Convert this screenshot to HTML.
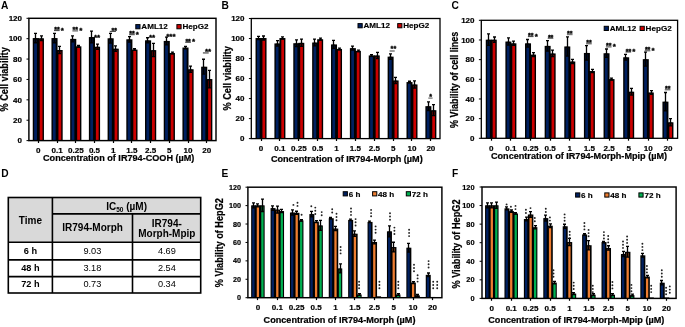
<!DOCTYPE html>
<html><head><meta charset="utf-8"><style>
html,body{margin:0;padding:0;background:#fff;}
svg{display:block;font-family:"Liberation Sans", sans-serif;will-change:transform;}
</style></head><body>
<svg width="685" height="327" viewBox="0 0 685 327" fill="#000">
<rect width="685" height="327" fill="#fff"/>
<rect x="32.75" y="38.07" width="6.10" height="102.53" fill="#000"/>
<rect x="37.85" y="38.28" width="6.10" height="102.32" fill="#000"/>
<rect x="34.15" y="39.47" width="2.80" height="101.13" fill="#002060"/>
<rect x="39.75" y="39.68" width="2.80" height="100.92" fill="#CC0000"/>
<rect x="34.15" y="38.07" width="2.80" height="4.69" fill="#000" fill-opacity="0.55"/>
<path d="M35.50 33.38V42.76M34.00 33.38H37.00M34.00 42.76H37.00" stroke="#000" stroke-width="1.3" fill="none"/>
<rect x="39.75" y="38.28" width="2.80" height="2.34" fill="#000" fill-opacity="0.55"/>
<path d="M41.50 35.93V40.62M40.00 35.93H43.00M40.00 40.62H43.00" stroke="#000" stroke-width="1.3" fill="none"/>
<rect x="51.47" y="38.07" width="6.10" height="102.53" fill="#000"/>
<rect x="56.57" y="50.00" width="6.10" height="90.60" fill="#000"/>
<rect x="52.87" y="39.47" width="2.80" height="101.13" fill="#002060"/>
<rect x="58.47" y="51.40" width="2.80" height="89.20" fill="#CC0000"/>
<rect x="52.87" y="38.07" width="2.80" height="4.69" fill="#000" fill-opacity="0.55"/>
<path d="M54.50 33.38V42.76M53.00 33.38H56.00M53.00 42.76H56.00" stroke="#000" stroke-width="1.3" fill="none"/>
<rect x="58.47" y="50.00" width="2.80" height="3.67" fill="#000" fill-opacity="0.55"/>
<path d="M59.50 46.33V53.67M58.00 46.33H61.00M58.00 53.67H61.00" stroke="#000" stroke-width="1.3" fill="none"/>
<rect x="70.18" y="38.89" width="6.10" height="101.71" fill="#000"/>
<rect x="75.28" y="46.33" width="6.10" height="94.27" fill="#000"/>
<rect x="71.58" y="40.29" width="2.80" height="100.31" fill="#002060"/>
<rect x="77.18" y="47.73" width="2.80" height="92.87" fill="#CC0000"/>
<rect x="71.58" y="38.89" width="2.80" height="2.96" fill="#000" fill-opacity="0.55"/>
<path d="M72.50 35.93V41.84M71.00 35.93H74.00M71.00 41.84H74.00" stroke="#000" stroke-width="1.3" fill="none"/>
<rect x="77.18" y="46.33" width="2.80" height="0.82" fill="#000" fill-opacity="0.55"/>
<path d="M78.50 45.51V47.14M77.00 45.51H80.00M77.00 47.14H80.00" stroke="#000" stroke-width="1.3" fill="none"/>
<rect x="88.88" y="37.05" width="6.10" height="103.55" fill="#000"/>
<rect x="93.98" y="46.73" width="6.10" height="93.87" fill="#000"/>
<rect x="90.28" y="38.45" width="2.80" height="102.15" fill="#002060"/>
<rect x="95.88" y="48.13" width="2.80" height="92.47" fill="#CC0000"/>
<rect x="90.28" y="37.05" width="2.80" height="5.91" fill="#000" fill-opacity="0.55"/>
<path d="M91.50 31.14V42.96M90.00 31.14H93.00M90.00 42.96H93.00" stroke="#000" stroke-width="1.3" fill="none"/>
<rect x="95.88" y="46.73" width="2.80" height="2.55" fill="#000" fill-opacity="0.55"/>
<path d="M97.50 44.19V49.28M96.00 44.19H99.00M96.00 49.28H99.00" stroke="#000" stroke-width="1.3" fill="none"/>
<rect x="107.59" y="38.28" width="6.10" height="102.32" fill="#000"/>
<rect x="112.69" y="48.67" width="6.10" height="91.93" fill="#000"/>
<rect x="109.00" y="39.68" width="2.80" height="100.92" fill="#002060"/>
<rect x="114.59" y="50.07" width="2.80" height="90.53" fill="#CC0000"/>
<rect x="109.00" y="38.28" width="2.80" height="4.89" fill="#000" fill-opacity="0.55"/>
<path d="M110.50 33.38V43.17M109.00 33.38H112.00M109.00 43.17H112.00" stroke="#000" stroke-width="1.3" fill="none"/>
<rect x="114.59" y="48.67" width="2.80" height="2.75" fill="#000" fill-opacity="0.55"/>
<path d="M115.50 45.92V51.42M114.00 45.92H117.00M114.00 51.42H117.00" stroke="#000" stroke-width="1.3" fill="none"/>
<rect x="126.31" y="39.29" width="6.10" height="101.31" fill="#000"/>
<rect x="131.41" y="49.59" width="6.10" height="91.01" fill="#000"/>
<rect x="127.71" y="40.69" width="2.80" height="99.91" fill="#002060"/>
<rect x="133.31" y="50.99" width="2.80" height="89.61" fill="#CC0000"/>
<rect x="127.71" y="39.29" width="2.80" height="2.75" fill="#000" fill-opacity="0.55"/>
<path d="M129.50 36.54V42.05M128.00 36.54H131.00M128.00 42.05H131.00" stroke="#000" stroke-width="1.3" fill="none"/>
<rect x="133.31" y="49.59" width="2.80" height="0.82" fill="#000" fill-opacity="0.55"/>
<path d="M134.50 48.77V50.40M133.00 48.77H136.00M133.00 50.40H136.00" stroke="#000" stroke-width="1.3" fill="none"/>
<rect x="145.02" y="40.31" width="6.10" height="100.29" fill="#000"/>
<rect x="150.12" y="50.10" width="6.10" height="90.50" fill="#000"/>
<rect x="146.42" y="41.71" width="2.80" height="98.89" fill="#002060"/>
<rect x="152.02" y="51.50" width="2.80" height="89.10" fill="#CC0000"/>
<rect x="146.42" y="40.31" width="2.80" height="2.55" fill="#000" fill-opacity="0.55"/>
<path d="M147.50 37.77V42.86M146.00 37.77H149.00M146.00 42.86H149.00" stroke="#000" stroke-width="1.3" fill="none"/>
<rect x="152.02" y="50.10" width="2.80" height="6.62" fill="#000" fill-opacity="0.55"/>
<path d="M153.50 43.47V56.72M152.00 43.47H155.00M152.00 56.72H155.00" stroke="#000" stroke-width="1.3" fill="none"/>
<rect x="163.73" y="40.93" width="6.10" height="99.67" fill="#000"/>
<rect x="168.83" y="52.95" width="6.10" height="87.65" fill="#000"/>
<rect x="165.13" y="42.33" width="2.80" height="98.27" fill="#002060"/>
<rect x="170.73" y="54.35" width="2.80" height="86.25" fill="#CC0000"/>
<rect x="165.13" y="40.93" width="2.80" height="3.87" fill="#000" fill-opacity="0.55"/>
<path d="M166.50 37.05V44.80M165.00 37.05H168.00M165.00 44.80H168.00" stroke="#000" stroke-width="1.3" fill="none"/>
<rect x="170.73" y="52.95" width="2.80" height="0.82" fill="#000" fill-opacity="0.55"/>
<path d="M172.50 52.14V53.77M171.00 52.14H174.00M171.00 53.77H174.00" stroke="#000" stroke-width="1.3" fill="none"/>
<rect x="182.44" y="47.55" width="6.10" height="93.05" fill="#000"/>
<rect x="187.53" y="69.26" width="6.10" height="71.34" fill="#000"/>
<rect x="183.84" y="48.95" width="2.80" height="91.65" fill="#002060"/>
<rect x="189.44" y="70.66" width="2.80" height="69.94" fill="#CC0000"/>
<rect x="183.84" y="47.55" width="2.80" height="1.22" fill="#000" fill-opacity="0.55"/>
<path d="M185.50 46.33V48.77M184.00 46.33H187.00M184.00 48.77H187.00" stroke="#000" stroke-width="1.3" fill="none"/>
<rect x="189.44" y="69.26" width="2.80" height="3.06" fill="#000" fill-opacity="0.55"/>
<path d="M190.50 66.20V72.32M189.00 66.20H192.00M189.00 72.32H192.00" stroke="#000" stroke-width="1.3" fill="none"/>
<rect x="201.15" y="66.71" width="6.10" height="73.89" fill="#000"/>
<rect x="206.25" y="79.04" width="6.10" height="61.56" fill="#000"/>
<rect x="202.55" y="68.11" width="2.80" height="72.49" fill="#002060"/>
<rect x="208.15" y="80.44" width="2.80" height="60.16" fill="#CC0000"/>
<rect x="202.55" y="66.71" width="2.80" height="7.44" fill="#000" fill-opacity="0.55"/>
<path d="M203.50 59.27V74.15M202.00 59.27H205.00M202.00 74.15H205.00" stroke="#000" stroke-width="1.3" fill="none"/>
<rect x="208.15" y="79.04" width="2.80" height="8.76" fill="#000" fill-opacity="0.55"/>
<path d="M209.50 70.28V87.81M208.00 70.28H211.00M208.00 87.81H211.00" stroke="#000" stroke-width="1.3" fill="none"/>
<rect x="28.90" y="18.30" width="187.10" height="122.30" fill="none" stroke="#000" stroke-width="1.45"/>
<line x1="26.50" y1="140.60" x2="28.90" y2="140.60" stroke="#000" stroke-width="1"/>
<text x="22.00" y="143.30" font-size="8.0" text-anchor="end" font-weight="bold" stroke="#000" stroke-width="0.2">0</text>
<line x1="26.50" y1="120.22" x2="28.90" y2="120.22" stroke="#000" stroke-width="1"/>
<text x="22.00" y="122.92" font-size="8.0" text-anchor="end" font-weight="bold" stroke="#000" stroke-width="0.2">20</text>
<line x1="26.50" y1="99.83" x2="28.90" y2="99.83" stroke="#000" stroke-width="1"/>
<text x="22.00" y="102.53" font-size="8.0" text-anchor="end" font-weight="bold" stroke="#000" stroke-width="0.2">40</text>
<line x1="26.50" y1="79.45" x2="28.90" y2="79.45" stroke="#000" stroke-width="1"/>
<text x="22.00" y="82.15" font-size="8.0" text-anchor="end" font-weight="bold" stroke="#000" stroke-width="0.2">60</text>
<line x1="26.50" y1="59.07" x2="28.90" y2="59.07" stroke="#000" stroke-width="1"/>
<text x="22.00" y="61.77" font-size="8.0" text-anchor="end" font-weight="bold" stroke="#000" stroke-width="0.2">80</text>
<line x1="26.50" y1="38.68" x2="28.90" y2="38.68" stroke="#000" stroke-width="1"/>
<text x="22.00" y="41.38" font-size="8.0" text-anchor="end" font-weight="bold" stroke="#000" stroke-width="0.2">100</text>
<line x1="26.50" y1="18.30" x2="28.90" y2="18.30" stroke="#000" stroke-width="1"/>
<text x="22.00" y="21.00" font-size="8.0" text-anchor="end" font-weight="bold" stroke="#000" stroke-width="0.2">120</text>
<line x1="38.50" y1="140.60" x2="38.50" y2="143.00" stroke="#000" stroke-width="1.2"/>
<text transform="translate(38.35,152.80) scale(1.02,1)" font-size="7.9" text-anchor="middle" font-weight="bold" stroke="#000" stroke-width="0.2">0</text>
<line x1="57.50" y1="140.60" x2="57.50" y2="143.00" stroke="#000" stroke-width="1.2"/>
<text transform="translate(57.07,152.80) scale(1.02,1)" font-size="7.9" text-anchor="middle" font-weight="bold" stroke="#000" stroke-width="0.2">0.1</text>
<line x1="75.50" y1="140.60" x2="75.50" y2="143.00" stroke="#000" stroke-width="1.2"/>
<text transform="translate(75.78,152.80) scale(1.02,1)" font-size="7.9" text-anchor="middle" font-weight="bold" stroke="#000" stroke-width="0.2">0.25</text>
<line x1="94.50" y1="140.60" x2="94.50" y2="143.00" stroke="#000" stroke-width="1.2"/>
<text transform="translate(94.48,152.80) scale(1.02,1)" font-size="7.9" text-anchor="middle" font-weight="bold" stroke="#000" stroke-width="0.2">0.5</text>
<line x1="113.50" y1="140.60" x2="113.50" y2="143.00" stroke="#000" stroke-width="1.2"/>
<text transform="translate(113.19,152.80) scale(1.02,1)" font-size="7.9" text-anchor="middle" font-weight="bold" stroke="#000" stroke-width="0.2">1</text>
<line x1="131.50" y1="140.60" x2="131.50" y2="143.00" stroke="#000" stroke-width="1.2"/>
<text transform="translate(131.91,152.80) scale(1.02,1)" font-size="7.9" text-anchor="middle" font-weight="bold" stroke="#000" stroke-width="0.2">1.5</text>
<line x1="150.50" y1="140.60" x2="150.50" y2="143.00" stroke="#000" stroke-width="1.2"/>
<text transform="translate(150.62,152.80) scale(1.02,1)" font-size="7.9" text-anchor="middle" font-weight="bold" stroke="#000" stroke-width="0.2">2.5</text>
<line x1="169.50" y1="140.60" x2="169.50" y2="143.00" stroke="#000" stroke-width="1.2"/>
<text transform="translate(169.33,152.80) scale(1.02,1)" font-size="7.9" text-anchor="middle" font-weight="bold" stroke="#000" stroke-width="0.2">5</text>
<line x1="188.50" y1="140.60" x2="188.50" y2="143.00" stroke="#000" stroke-width="1.2"/>
<text transform="translate(188.03,152.80) scale(1.02,1)" font-size="7.9" text-anchor="middle" font-weight="bold" stroke="#000" stroke-width="0.2">10</text>
<line x1="206.50" y1="140.60" x2="206.50" y2="143.00" stroke="#000" stroke-width="1.2"/>
<text transform="translate(206.75,152.80) scale(1.02,1)" font-size="7.9" text-anchor="middle" font-weight="bold" stroke="#000" stroke-width="0.2">20</text>
<text transform="translate(118.70,160.80) scale(1.085,1)" font-size="8.4" text-anchor="middle" font-weight="bold" stroke="#000" stroke-width="0.2">Concentration of IR794-COOH (µM)</text>
<text transform="translate(8.20,79.40) rotate(-90) scale(1,1.12)" font-size="9.2" text-anchor="middle" font-weight="bold" stroke="#000" stroke-width="0.2">% Cell viability</text>
<rect x="135.80" y="24.60" width="4.2" height="4.2" fill="#002060" stroke="#000" stroke-width="1"/>
<text transform="translate(141.30,29.20) scale(1.08,1)" font-size="7.5" text-anchor="start" font-weight="bold" stroke="#000" stroke-width="0.15">AML12</text>
<rect x="176.90" y="24.60" width="4.2" height="4.2" fill="#CC0000" stroke="#000" stroke-width="1"/>
<text transform="translate(182.40,29.20) scale(1.08,1)" font-size="7.5" text-anchor="start" font-weight="bold" stroke="#000" stroke-width="0.15">HepG2</text>
<text x="54.20" y="32.10" font-size="7.0" font-weight="bold" stroke="#000" stroke-width="0.35">*</text>
<text x="56.92" y="32.10" font-size="7.0" font-weight="bold" stroke="#000" stroke-width="0.35">*</text>
<line x1="54.00" y1="30.60" x2="59.65" y2="30.60" stroke="#222" stroke-width="0.9"/>
<text x="60.75" y="32.60" font-size="8.0" font-weight="bold" stroke="#000" stroke-width="0.35">*</text>
<text x="72.60" y="32.40" font-size="7.0" font-weight="bold" stroke="#000" stroke-width="0.35">*</text>
<text x="75.32" y="32.40" font-size="7.0" font-weight="bold" stroke="#000" stroke-width="0.35">*</text>
<line x1="72.40" y1="30.90" x2="78.05" y2="30.90" stroke="#222" stroke-width="0.9"/>
<text x="79.15" y="32.90" font-size="8.0" font-weight="bold" stroke="#000" stroke-width="0.35">*</text>
<text x="94.00" y="39.50" font-size="8.0" font-weight="bold" stroke="#000" stroke-width="0.35">*</text>
<text x="97.11" y="39.50" font-size="8.0" font-weight="bold" stroke="#000" stroke-width="0.35">*</text>
<text x="111.50" y="32.50" font-size="7.0" font-weight="bold" stroke="#000" stroke-width="0.35">*</text>
<text x="114.22" y="32.50" font-size="7.0" font-weight="bold" stroke="#000" stroke-width="0.35">*</text>
<line x1="109.80" y1="31.40" x2="115.95" y2="31.40" stroke="#222" stroke-width="0.9"/>
<text x="129.30" y="36.20" font-size="7.0" font-weight="bold" stroke="#000" stroke-width="0.35">*</text>
<text x="132.02" y="36.20" font-size="7.0" font-weight="bold" stroke="#000" stroke-width="0.35">*</text>
<line x1="129.10" y1="34.70" x2="134.75" y2="34.70" stroke="#222" stroke-width="0.9"/>
<text x="135.85" y="36.70" font-size="8.0" font-weight="bold" stroke="#000" stroke-width="0.35">*</text>
<text x="148.90" y="40.10" font-size="8.0" font-weight="bold" stroke="#000" stroke-width="0.35">*</text>
<text x="152.01" y="40.10" font-size="8.0" font-weight="bold" stroke="#000" stroke-width="0.35">*</text>
<text x="166.20" y="39.40" font-size="8.0" font-weight="bold" stroke="#000" stroke-width="0.35">*</text>
<text x="169.31" y="39.40" font-size="8.0" font-weight="bold" stroke="#000" stroke-width="0.35">*</text>
<text x="172.42" y="39.40" font-size="8.0" font-weight="bold" stroke="#000" stroke-width="0.35">*</text>
<text x="185.40" y="43.80" font-size="7.0" font-weight="bold" stroke="#000" stroke-width="0.35">*</text>
<text x="188.12" y="43.80" font-size="7.0" font-weight="bold" stroke="#000" stroke-width="0.35">*</text>
<line x1="185.20" y1="42.30" x2="190.85" y2="42.30" stroke="#222" stroke-width="0.9"/>
<text x="191.95" y="44.30" font-size="8.0" font-weight="bold" stroke="#000" stroke-width="0.35">*</text>
<text x="204.90" y="53.60" font-size="8.0" font-weight="bold" stroke="#000" stroke-width="0.35">*</text>
<text x="208.01" y="53.60" font-size="8.0" font-weight="bold" stroke="#000" stroke-width="0.35">*</text>
<line x1="202.90" y1="52.90" x2="208.70" y2="52.90" stroke="#777" stroke-width="1.6"/>
<rect x="255.54" y="38.02" width="6.00" height="100.58" fill="#000"/>
<rect x="260.54" y="38.02" width="6.00" height="100.58" fill="#000"/>
<rect x="256.94" y="39.42" width="2.70" height="99.18" fill="#002060"/>
<rect x="262.44" y="39.42" width="2.70" height="99.18" fill="#CC0000"/>
<rect x="256.94" y="38.02" width="2.70" height="1.60" fill="#000" fill-opacity="0.55"/>
<path d="M258.50 36.41V39.62M257.00 36.41H260.00M257.00 39.62H260.00" stroke="#000" stroke-width="1.3" fill="none"/>
<rect x="262.44" y="38.02" width="2.70" height="2.00" fill="#000" fill-opacity="0.55"/>
<path d="M263.50 36.01V40.02M262.00 36.01H265.00M262.00 40.02H265.00" stroke="#000" stroke-width="1.3" fill="none"/>
<rect x="274.41" y="43.42" width="6.00" height="95.18" fill="#000"/>
<rect x="279.41" y="38.02" width="6.00" height="100.58" fill="#000"/>
<rect x="275.81" y="44.82" width="2.70" height="93.78" fill="#002060"/>
<rect x="281.31" y="39.42" width="2.70" height="99.18" fill="#CC0000"/>
<rect x="275.81" y="43.42" width="2.70" height="2.70" fill="#000" fill-opacity="0.55"/>
<path d="M277.50 40.72V46.12M276.00 40.72H279.00M276.00 46.12H279.00" stroke="#000" stroke-width="1.3" fill="none"/>
<rect x="281.31" y="38.02" width="2.70" height="1.10" fill="#000" fill-opacity="0.55"/>
<path d="M282.50 36.92V39.12M281.00 36.92H284.00M281.00 39.12H284.00" stroke="#000" stroke-width="1.3" fill="none"/>
<rect x="293.28" y="43.22" width="6.00" height="95.38" fill="#000"/>
<rect x="298.28" y="42.82" width="6.00" height="95.78" fill="#000"/>
<rect x="294.68" y="44.62" width="2.70" height="93.98" fill="#002060"/>
<rect x="300.18" y="44.22" width="2.70" height="94.38" fill="#CC0000"/>
<rect x="294.68" y="43.22" width="2.70" height="3.40" fill="#000" fill-opacity="0.55"/>
<path d="M296.50 39.82V46.62M295.00 39.82H298.00M295.00 46.62H298.00" stroke="#000" stroke-width="1.3" fill="none"/>
<rect x="300.18" y="42.82" width="2.70" height="3.60" fill="#000" fill-opacity="0.55"/>
<path d="M301.50 39.22V46.42M300.00 39.22H303.00M300.00 46.42H303.00" stroke="#000" stroke-width="1.3" fill="none"/>
<rect x="312.15" y="42.52" width="6.00" height="96.08" fill="#000"/>
<rect x="317.15" y="39.22" width="6.00" height="99.38" fill="#000"/>
<rect x="313.55" y="43.92" width="2.70" height="94.68" fill="#002060"/>
<rect x="319.05" y="40.62" width="2.70" height="97.98" fill="#CC0000"/>
<rect x="313.55" y="42.52" width="2.70" height="3.30" fill="#000" fill-opacity="0.55"/>
<path d="M314.50 39.22V45.82M313.00 39.22H316.00M313.00 45.82H316.00" stroke="#000" stroke-width="1.3" fill="none"/>
<rect x="319.05" y="39.22" width="2.70" height="1.00" fill="#000" fill-opacity="0.55"/>
<path d="M320.50 38.22V40.22M319.00 38.22H322.00M319.00 40.22H322.00" stroke="#000" stroke-width="1.3" fill="none"/>
<rect x="331.02" y="44.42" width="6.00" height="94.18" fill="#000"/>
<rect x="336.02" y="48.93" width="6.00" height="89.67" fill="#000"/>
<rect x="332.42" y="45.82" width="2.70" height="92.78" fill="#002060"/>
<rect x="337.92" y="50.33" width="2.70" height="88.27" fill="#CC0000"/>
<rect x="332.42" y="44.42" width="2.70" height="4.00" fill="#000" fill-opacity="0.55"/>
<path d="M333.50 40.42V48.42M332.00 40.42H335.00M332.00 48.42H335.00" stroke="#000" stroke-width="1.3" fill="none"/>
<rect x="337.92" y="48.93" width="2.70" height="0.80" fill="#000" fill-opacity="0.55"/>
<path d="M339.50 48.12V49.73M338.00 48.12H341.00M338.00 49.73H341.00" stroke="#000" stroke-width="1.3" fill="none"/>
<rect x="349.88" y="48.12" width="6.00" height="90.48" fill="#000"/>
<rect x="354.88" y="50.83" width="6.00" height="87.77" fill="#000"/>
<rect x="351.28" y="49.52" width="2.70" height="89.08" fill="#002060"/>
<rect x="356.78" y="52.23" width="2.70" height="86.37" fill="#CC0000"/>
<rect x="351.28" y="48.12" width="2.70" height="2.00" fill="#000" fill-opacity="0.55"/>
<path d="M352.50 46.12V50.13M351.00 46.12H354.00M351.00 50.13H354.00" stroke="#000" stroke-width="1.3" fill="none"/>
<rect x="356.78" y="50.83" width="2.70" height="0.80" fill="#000" fill-opacity="0.55"/>
<path d="M358.50 50.03V51.63M357.00 50.03H360.00M357.00 51.63H360.00" stroke="#000" stroke-width="1.3" fill="none"/>
<rect x="368.75" y="55.43" width="6.00" height="83.17" fill="#000"/>
<rect x="373.75" y="55.43" width="6.00" height="83.17" fill="#000"/>
<rect x="370.15" y="56.83" width="2.70" height="81.77" fill="#002060"/>
<rect x="375.65" y="56.83" width="2.70" height="81.77" fill="#CC0000"/>
<rect x="370.15" y="55.43" width="2.70" height="0.90" fill="#000" fill-opacity="0.55"/>
<path d="M371.50 54.53V56.33M370.00 54.53H373.00M370.00 56.33H373.00" stroke="#000" stroke-width="1.3" fill="none"/>
<rect x="375.65" y="55.43" width="2.70" height="3.10" fill="#000" fill-opacity="0.55"/>
<path d="M377.50 52.33V58.53M376.00 52.33H379.00M376.00 58.53H379.00" stroke="#000" stroke-width="1.3" fill="none"/>
<rect x="387.62" y="56.63" width="6.00" height="81.97" fill="#000"/>
<rect x="392.62" y="80.45" width="6.00" height="58.15" fill="#000"/>
<rect x="389.02" y="58.03" width="2.70" height="80.57" fill="#002060"/>
<rect x="394.52" y="81.85" width="2.70" height="56.75" fill="#CC0000"/>
<rect x="389.02" y="56.63" width="2.70" height="2.80" fill="#000" fill-opacity="0.55"/>
<path d="M390.50 53.83V59.43M389.00 53.83H392.00M389.00 59.43H392.00" stroke="#000" stroke-width="1.3" fill="none"/>
<rect x="394.52" y="80.45" width="2.70" height="3.10" fill="#000" fill-opacity="0.55"/>
<path d="M395.50 77.35V83.55M394.00 77.35H397.00M394.00 83.55H397.00" stroke="#000" stroke-width="1.3" fill="none"/>
<rect x="406.50" y="82.05" width="6.00" height="56.55" fill="#000"/>
<rect x="411.50" y="84.45" width="6.00" height="54.15" fill="#000"/>
<rect x="407.89" y="83.45" width="2.70" height="55.15" fill="#002060"/>
<rect x="413.39" y="85.85" width="2.70" height="52.75" fill="#CC0000"/>
<rect x="407.89" y="82.05" width="2.70" height="0.80" fill="#000" fill-opacity="0.55"/>
<path d="M409.50 81.25V82.85M408.00 81.25H411.00M408.00 82.85H411.00" stroke="#000" stroke-width="1.3" fill="none"/>
<rect x="413.39" y="84.45" width="2.70" height="3.60" fill="#000" fill-opacity="0.55"/>
<path d="M414.50 80.85V88.06M413.00 80.85H416.00M413.00 88.06H416.00" stroke="#000" stroke-width="1.3" fill="none"/>
<rect x="425.37" y="106.17" width="6.00" height="32.43" fill="#000"/>
<rect x="430.37" y="110.18" width="6.00" height="28.42" fill="#000"/>
<rect x="426.76" y="107.57" width="2.70" height="31.03" fill="#002060"/>
<rect x="432.26" y="111.58" width="2.70" height="27.02" fill="#CC0000"/>
<rect x="426.76" y="106.17" width="2.70" height="4.30" fill="#000" fill-opacity="0.55"/>
<path d="M428.50 101.87V110.48M427.00 101.87H430.00M427.00 110.48H430.00" stroke="#000" stroke-width="1.3" fill="none"/>
<rect x="432.26" y="110.18" width="2.70" height="5.50" fill="#000" fill-opacity="0.55"/>
<path d="M433.50 104.67V115.68M432.00 104.67H435.00M432.00 115.68H435.00" stroke="#000" stroke-width="1.3" fill="none"/>
<rect x="251.30" y="18.50" width="188.70" height="120.10" fill="none" stroke="#000" stroke-width="1.3"/>
<line x1="248.90" y1="138.60" x2="251.30" y2="138.60" stroke="#000" stroke-width="1"/>
<text x="244.50" y="141.30" font-size="8.0" text-anchor="end" font-weight="bold" stroke="#000" stroke-width="0.2">0</text>
<line x1="248.90" y1="118.58" x2="251.30" y2="118.58" stroke="#000" stroke-width="1"/>
<text x="244.50" y="121.28" font-size="8.0" text-anchor="end" font-weight="bold" stroke="#000" stroke-width="0.2">20</text>
<line x1="248.90" y1="98.57" x2="251.30" y2="98.57" stroke="#000" stroke-width="1"/>
<text x="244.50" y="101.27" font-size="8.0" text-anchor="end" font-weight="bold" stroke="#000" stroke-width="0.2">40</text>
<line x1="248.90" y1="78.55" x2="251.30" y2="78.55" stroke="#000" stroke-width="1"/>
<text x="244.50" y="81.25" font-size="8.0" text-anchor="end" font-weight="bold" stroke="#000" stroke-width="0.2">60</text>
<line x1="248.90" y1="58.53" x2="251.30" y2="58.53" stroke="#000" stroke-width="1"/>
<text x="244.50" y="61.23" font-size="8.0" text-anchor="end" font-weight="bold" stroke="#000" stroke-width="0.2">80</text>
<line x1="248.90" y1="38.52" x2="251.30" y2="38.52" stroke="#000" stroke-width="1"/>
<text x="244.50" y="41.22" font-size="8.0" text-anchor="end" font-weight="bold" stroke="#000" stroke-width="0.2">100</text>
<line x1="248.90" y1="18.50" x2="251.30" y2="18.50" stroke="#000" stroke-width="1"/>
<text x="244.50" y="21.20" font-size="8.0" text-anchor="end" font-weight="bold" stroke="#000" stroke-width="0.2">120</text>
<line x1="261.50" y1="138.60" x2="261.50" y2="141.00" stroke="#000" stroke-width="1.2"/>
<text transform="translate(261.04,150.90) scale(1.02,1)" font-size="7.9" text-anchor="middle" font-weight="bold" stroke="#000" stroke-width="0.2">0</text>
<line x1="279.50" y1="138.60" x2="279.50" y2="141.00" stroke="#000" stroke-width="1.2"/>
<text transform="translate(279.91,150.90) scale(1.02,1)" font-size="7.9" text-anchor="middle" font-weight="bold" stroke="#000" stroke-width="0.2">0.1</text>
<line x1="298.50" y1="138.60" x2="298.50" y2="141.00" stroke="#000" stroke-width="1.2"/>
<text transform="translate(298.78,150.90) scale(1.02,1)" font-size="7.9" text-anchor="middle" font-weight="bold" stroke="#000" stroke-width="0.2">0.25</text>
<line x1="317.50" y1="138.60" x2="317.50" y2="141.00" stroke="#000" stroke-width="1.2"/>
<text transform="translate(317.65,150.90) scale(1.02,1)" font-size="7.9" text-anchor="middle" font-weight="bold" stroke="#000" stroke-width="0.2">0.5</text>
<line x1="336.50" y1="138.60" x2="336.50" y2="141.00" stroke="#000" stroke-width="1.2"/>
<text transform="translate(336.52,150.90) scale(1.02,1)" font-size="7.9" text-anchor="middle" font-weight="bold" stroke="#000" stroke-width="0.2">1</text>
<line x1="355.50" y1="138.60" x2="355.50" y2="141.00" stroke="#000" stroke-width="1.2"/>
<text transform="translate(355.38,150.90) scale(1.02,1)" font-size="7.9" text-anchor="middle" font-weight="bold" stroke="#000" stroke-width="0.2">1.5</text>
<line x1="374.50" y1="138.60" x2="374.50" y2="141.00" stroke="#000" stroke-width="1.2"/>
<text transform="translate(374.25,150.90) scale(1.02,1)" font-size="7.9" text-anchor="middle" font-weight="bold" stroke="#000" stroke-width="0.2">2.5</text>
<line x1="393.50" y1="138.60" x2="393.50" y2="141.00" stroke="#000" stroke-width="1.2"/>
<text transform="translate(393.12,150.90) scale(1.02,1)" font-size="7.9" text-anchor="middle" font-weight="bold" stroke="#000" stroke-width="0.2">5</text>
<line x1="411.50" y1="138.60" x2="411.50" y2="141.00" stroke="#000" stroke-width="1.2"/>
<text transform="translate(412.00,150.90) scale(1.02,1)" font-size="7.9" text-anchor="middle" font-weight="bold" stroke="#000" stroke-width="0.2">10</text>
<line x1="430.50" y1="138.60" x2="430.50" y2="141.00" stroke="#000" stroke-width="1.2"/>
<text transform="translate(430.87,150.90) scale(1.02,1)" font-size="7.9" text-anchor="middle" font-weight="bold" stroke="#000" stroke-width="0.2">20</text>
<text transform="translate(346.80,161.50) scale(1.085,1)" font-size="8.4" text-anchor="middle" font-weight="bold" stroke="#000" stroke-width="0.2">Concentration of IR794-Morph (µM)</text>
<text transform="translate(231.30,78.40) rotate(-90) scale(1,1.12)" font-size="9.2" text-anchor="middle" font-weight="bold" stroke="#000" stroke-width="0.2">% Cell viability</text>
<rect x="358.00" y="23.60" width="4.2" height="4.2" fill="#002060" stroke="#000" stroke-width="1"/>
<text transform="translate(363.50,28.20) scale(1.08,1)" font-size="7.5" text-anchor="start" font-weight="bold" stroke="#000" stroke-width="0.15">AML12</text>
<rect x="397.70" y="23.60" width="4.2" height="4.2" fill="#CC0000" stroke="#000" stroke-width="1"/>
<text transform="translate(403.20,28.20) scale(1.08,1)" font-size="7.5" text-anchor="start" font-weight="bold" stroke="#000" stroke-width="0.15">HepG2</text>
<text x="390.60" y="51.20" font-size="7.2" font-weight="bold" stroke="#000" stroke-width="0.35">*</text>
<text x="393.40" y="51.20" font-size="7.2" font-weight="bold" stroke="#000" stroke-width="0.35">*</text>
<line x1="389.60" y1="51.00" x2="394.70" y2="51.00" stroke="#666" stroke-width="1.3"/>
<text x="429.30" y="99.30" font-size="7.2" font-weight="bold" stroke="#000" stroke-width="0.35">*</text>
<line x1="428.30" y1="98.10" x2="432.60" y2="98.10" stroke="#777" stroke-width="1.3"/>
<rect x="485.76" y="39.67" width="6.00" height="98.63" fill="#000"/>
<rect x="490.76" y="39.67" width="6.00" height="98.63" fill="#000"/>
<rect x="487.16" y="41.07" width="2.70" height="97.23" fill="#002060"/>
<rect x="492.66" y="41.07" width="2.70" height="97.23" fill="#CC0000"/>
<rect x="487.16" y="39.67" width="2.70" height="5.70" fill="#000" fill-opacity="0.55"/>
<path d="M488.50 33.97V45.38M487.00 33.97H490.00M487.00 45.38H490.00" stroke="#000" stroke-width="1.3" fill="none"/>
<rect x="492.66" y="39.67" width="2.70" height="2.66" fill="#000" fill-opacity="0.55"/>
<path d="M494.50 37.02V42.33M493.00 37.02H496.00M493.00 42.33H496.00" stroke="#000" stroke-width="1.3" fill="none"/>
<rect x="505.39" y="41.54" width="6.00" height="96.76" fill="#000"/>
<rect x="510.39" y="43.31" width="6.00" height="94.99" fill="#000"/>
<rect x="506.79" y="42.94" width="2.70" height="95.36" fill="#002060"/>
<rect x="512.29" y="44.71" width="2.70" height="93.59" fill="#CC0000"/>
<rect x="506.79" y="41.54" width="2.70" height="3.64" fill="#000" fill-opacity="0.55"/>
<path d="M508.50 37.90V45.18M507.00 37.90H510.00M507.00 45.18H510.00" stroke="#000" stroke-width="1.3" fill="none"/>
<rect x="512.29" y="43.31" width="2.70" height="2.16" fill="#000" fill-opacity="0.55"/>
<path d="M513.50 41.15V45.47M512.00 41.15H515.00M512.00 45.47H515.00" stroke="#000" stroke-width="1.3" fill="none"/>
<rect x="525.02" y="43.31" width="6.00" height="94.99" fill="#000"/>
<rect x="530.02" y="54.62" width="6.00" height="83.68" fill="#000"/>
<rect x="526.42" y="44.71" width="2.70" height="93.59" fill="#002060"/>
<rect x="531.92" y="56.02" width="2.70" height="82.28" fill="#CC0000"/>
<rect x="526.42" y="43.31" width="2.70" height="3.84" fill="#000" fill-opacity="0.55"/>
<path d="M527.50 39.48V47.15M526.00 39.48H529.00M526.00 47.15H529.00" stroke="#000" stroke-width="1.3" fill="none"/>
<rect x="531.92" y="54.62" width="2.70" height="2.06" fill="#000" fill-opacity="0.55"/>
<path d="M533.50 52.55V56.68M532.00 52.55H535.00M532.00 56.68H535.00" stroke="#000" stroke-width="1.3" fill="none"/>
<rect x="544.65" y="45.87" width="6.00" height="92.43" fill="#000"/>
<rect x="549.65" y="53.44" width="6.00" height="84.86" fill="#000"/>
<rect x="546.05" y="47.27" width="2.70" height="91.03" fill="#002060"/>
<rect x="551.55" y="54.84" width="2.70" height="83.46" fill="#CC0000"/>
<rect x="546.05" y="45.87" width="2.70" height="5.21" fill="#000" fill-opacity="0.55"/>
<path d="M547.50 40.65V51.08M546.00 40.65H549.00M546.00 51.08H549.00" stroke="#000" stroke-width="1.3" fill="none"/>
<rect x="551.55" y="53.44" width="2.70" height="3.24" fill="#000" fill-opacity="0.55"/>
<path d="M552.50 50.19V56.68M551.00 50.19H554.00M551.00 56.68H554.00" stroke="#000" stroke-width="1.3" fill="none"/>
<rect x="564.28" y="46.46" width="6.00" height="91.84" fill="#000"/>
<rect x="569.28" y="61.50" width="6.00" height="76.80" fill="#000"/>
<rect x="565.68" y="47.86" width="2.70" height="90.44" fill="#002060"/>
<rect x="571.18" y="62.90" width="2.70" height="75.40" fill="#CC0000"/>
<rect x="565.68" y="46.46" width="2.70" height="9.64" fill="#000" fill-opacity="0.55"/>
<path d="M567.50 36.82V56.09M566.00 36.82H569.00M566.00 56.09H569.00" stroke="#000" stroke-width="1.3" fill="none"/>
<rect x="571.18" y="61.50" width="2.70" height="2.06" fill="#000" fill-opacity="0.55"/>
<path d="M572.50 59.44V63.57M571.00 59.44H574.00M571.00 63.57H574.00" stroke="#000" stroke-width="1.3" fill="none"/>
<rect x="583.91" y="52.95" width="6.00" height="85.35" fill="#000"/>
<rect x="588.91" y="71.04" width="6.00" height="67.26" fill="#000"/>
<rect x="585.31" y="54.35" width="2.70" height="83.95" fill="#002060"/>
<rect x="590.81" y="72.44" width="2.70" height="65.86" fill="#CC0000"/>
<rect x="585.31" y="52.95" width="2.70" height="7.28" fill="#000" fill-opacity="0.55"/>
<path d="M586.50 45.67V60.22M585.00 45.67H588.00M585.00 60.22H588.00" stroke="#000" stroke-width="1.3" fill="none"/>
<rect x="590.81" y="71.04" width="2.70" height="1.67" fill="#000" fill-opacity="0.55"/>
<path d="M592.50 69.37V72.71M591.00 69.37H594.00M591.00 72.71H594.00" stroke="#000" stroke-width="1.3" fill="none"/>
<rect x="603.54" y="53.24" width="6.00" height="85.06" fill="#000"/>
<rect x="608.54" y="79.10" width="6.00" height="59.20" fill="#000"/>
<rect x="604.94" y="54.64" width="2.70" height="83.66" fill="#002060"/>
<rect x="610.44" y="80.50" width="2.70" height="57.80" fill="#CC0000"/>
<rect x="604.94" y="53.24" width="2.70" height="4.23" fill="#000" fill-opacity="0.55"/>
<path d="M606.50 49.01V57.47M605.00 49.01H608.00M605.00 57.47H608.00" stroke="#000" stroke-width="1.3" fill="none"/>
<rect x="610.44" y="79.10" width="2.70" height="0.98" fill="#000" fill-opacity="0.55"/>
<path d="M611.50 78.12V80.09M610.00 78.12H613.00M610.00 80.09H613.00" stroke="#000" stroke-width="1.3" fill="none"/>
<rect x="623.18" y="57.27" width="6.00" height="81.03" fill="#000"/>
<rect x="628.18" y="91.69" width="6.00" height="46.61" fill="#000"/>
<rect x="624.58" y="58.67" width="2.70" height="79.63" fill="#002060"/>
<rect x="630.08" y="93.09" width="2.70" height="45.21" fill="#CC0000"/>
<rect x="624.58" y="57.27" width="2.70" height="2.85" fill="#000" fill-opacity="0.55"/>
<path d="M625.50 54.42V60.12M624.00 54.42H627.00M624.00 60.12H627.00" stroke="#000" stroke-width="1.3" fill="none"/>
<rect x="630.08" y="91.69" width="2.70" height="3.34" fill="#000" fill-opacity="0.55"/>
<path d="M631.50 88.35V95.03M630.00 88.35H633.00M630.00 95.03H633.00" stroke="#000" stroke-width="1.3" fill="none"/>
<rect x="642.80" y="59.14" width="6.00" height="79.16" fill="#000"/>
<rect x="647.80" y="92.48" width="6.00" height="45.82" fill="#000"/>
<rect x="644.20" y="60.54" width="2.70" height="77.76" fill="#002060"/>
<rect x="649.70" y="93.88" width="2.70" height="44.42" fill="#CC0000"/>
<rect x="644.20" y="59.14" width="2.70" height="7.08" fill="#000" fill-opacity="0.55"/>
<path d="M645.50 52.06V66.22M644.00 52.06H647.00M644.00 66.22H647.00" stroke="#000" stroke-width="1.3" fill="none"/>
<rect x="649.70" y="92.48" width="2.70" height="1.77" fill="#000" fill-opacity="0.55"/>
<path d="M651.50 90.71V94.25M650.00 90.71H653.00M650.00 94.25H653.00" stroke="#000" stroke-width="1.3" fill="none"/>
<rect x="662.44" y="101.62" width="6.00" height="36.68" fill="#000"/>
<rect x="667.44" y="122.27" width="6.00" height="16.03" fill="#000"/>
<rect x="663.84" y="103.02" width="2.70" height="35.28" fill="#002060"/>
<rect x="669.34" y="123.67" width="2.70" height="14.63" fill="#CC0000"/>
<rect x="663.84" y="101.62" width="2.70" height="9.15" fill="#000" fill-opacity="0.55"/>
<path d="M665.50 92.48V110.77M664.00 92.48H667.00M664.00 110.77H667.00" stroke="#000" stroke-width="1.3" fill="none"/>
<rect x="669.34" y="122.27" width="2.70" height="3.64" fill="#000" fill-opacity="0.55"/>
<path d="M670.50 118.63V125.91M669.00 118.63H672.00M669.00 125.91H672.00" stroke="#000" stroke-width="1.3" fill="none"/>
<rect x="481.30" y="20.30" width="196.30" height="118.00" fill="none" stroke="#000" stroke-width="1.3"/>
<line x1="478.90" y1="138.30" x2="481.30" y2="138.30" stroke="#000" stroke-width="1"/>
<text x="474.50" y="141.00" font-size="8.0" text-anchor="end" font-weight="bold" stroke="#000" stroke-width="0.2">0</text>
<line x1="478.90" y1="118.63" x2="481.30" y2="118.63" stroke="#000" stroke-width="1"/>
<text x="474.50" y="121.33" font-size="8.0" text-anchor="end" font-weight="bold" stroke="#000" stroke-width="0.2">20</text>
<line x1="478.90" y1="98.97" x2="481.30" y2="98.97" stroke="#000" stroke-width="1"/>
<text x="474.50" y="101.67" font-size="8.0" text-anchor="end" font-weight="bold" stroke="#000" stroke-width="0.2">40</text>
<line x1="478.90" y1="79.30" x2="481.30" y2="79.30" stroke="#000" stroke-width="1"/>
<text x="474.50" y="82.00" font-size="8.0" text-anchor="end" font-weight="bold" stroke="#000" stroke-width="0.2">60</text>
<line x1="478.90" y1="59.63" x2="481.30" y2="59.63" stroke="#000" stroke-width="1"/>
<text x="474.50" y="62.33" font-size="8.0" text-anchor="end" font-weight="bold" stroke="#000" stroke-width="0.2">80</text>
<line x1="478.90" y1="39.97" x2="481.30" y2="39.97" stroke="#000" stroke-width="1"/>
<text x="474.50" y="42.67" font-size="8.0" text-anchor="end" font-weight="bold" stroke="#000" stroke-width="0.2">100</text>
<line x1="478.90" y1="20.30" x2="481.30" y2="20.30" stroke="#000" stroke-width="1"/>
<text x="474.50" y="23.00" font-size="8.0" text-anchor="end" font-weight="bold" stroke="#000" stroke-width="0.2">120</text>
<line x1="491.50" y1="138.30" x2="491.50" y2="140.70" stroke="#000" stroke-width="1.2"/>
<text transform="translate(491.26,150.70) scale(1.02,1)" font-size="7.9" text-anchor="middle" font-weight="bold" stroke="#000" stroke-width="0.2">0</text>
<line x1="510.50" y1="138.30" x2="510.50" y2="140.70" stroke="#000" stroke-width="1.2"/>
<text transform="translate(510.89,150.70) scale(1.02,1)" font-size="7.9" text-anchor="middle" font-weight="bold" stroke="#000" stroke-width="0.2">0.1</text>
<line x1="530.50" y1="138.30" x2="530.50" y2="140.70" stroke="#000" stroke-width="1.2"/>
<text transform="translate(530.52,150.70) scale(1.02,1)" font-size="7.9" text-anchor="middle" font-weight="bold" stroke="#000" stroke-width="0.2">0.25</text>
<line x1="550.50" y1="138.30" x2="550.50" y2="140.70" stroke="#000" stroke-width="1.2"/>
<text transform="translate(550.15,150.70) scale(1.02,1)" font-size="7.9" text-anchor="middle" font-weight="bold" stroke="#000" stroke-width="0.2">0.5</text>
<line x1="569.50" y1="138.30" x2="569.50" y2="140.70" stroke="#000" stroke-width="1.2"/>
<text transform="translate(569.78,150.70) scale(1.02,1)" font-size="7.9" text-anchor="middle" font-weight="bold" stroke="#000" stroke-width="0.2">1</text>
<line x1="589.50" y1="138.30" x2="589.50" y2="140.70" stroke="#000" stroke-width="1.2"/>
<text transform="translate(589.41,150.70) scale(1.02,1)" font-size="7.9" text-anchor="middle" font-weight="bold" stroke="#000" stroke-width="0.2">1.5</text>
<line x1="609.50" y1="138.30" x2="609.50" y2="140.70" stroke="#000" stroke-width="1.2"/>
<text transform="translate(609.04,150.70) scale(1.02,1)" font-size="7.9" text-anchor="middle" font-weight="bold" stroke="#000" stroke-width="0.2">2.5</text>
<line x1="628.50" y1="138.30" x2="628.50" y2="140.70" stroke="#000" stroke-width="1.2"/>
<text transform="translate(628.68,150.70) scale(1.02,1)" font-size="7.9" text-anchor="middle" font-weight="bold" stroke="#000" stroke-width="0.2">5</text>
<line x1="648.50" y1="138.30" x2="648.50" y2="140.70" stroke="#000" stroke-width="1.2"/>
<text transform="translate(648.30,150.70) scale(1.02,1)" font-size="7.9" text-anchor="middle" font-weight="bold" stroke="#000" stroke-width="0.2">10</text>
<line x1="667.50" y1="138.30" x2="667.50" y2="140.70" stroke="#000" stroke-width="1.2"/>
<text transform="translate(667.94,150.70) scale(1.02,1)" font-size="7.9" text-anchor="middle" font-weight="bold" stroke="#000" stroke-width="0.2">20</text>
<text transform="translate(579.00,159.10) scale(1.085,1)" font-size="8.4" text-anchor="middle" font-weight="bold" stroke="#000" stroke-width="0.2">Concentration of IR794-Morph-Mpip (µM)</text>
<text transform="translate(458.30,79.80) rotate(-90) scale(1,1.12)" font-size="9.0" text-anchor="middle" font-weight="bold" stroke="#000" stroke-width="0.2">% Viability of cell lines</text>
<rect x="604.20" y="26.30" width="4.2" height="4.2" fill="#002060" stroke="#000" stroke-width="1"/>
<text transform="translate(609.70,30.90) scale(1.08,1)" font-size="7.5" text-anchor="start" font-weight="bold" stroke="#000" stroke-width="0.15">AML12</text>
<rect x="640.10" y="26.30" width="4.2" height="4.2" fill="#CC0000" stroke="#000" stroke-width="1"/>
<text transform="translate(645.60,30.90) scale(1.08,1)" font-size="7.5" text-anchor="start" font-weight="bold" stroke="#000" stroke-width="0.15">HepG2</text>
<text x="528.10" y="38.10" font-size="7.0" font-weight="bold" stroke="#000" stroke-width="0.35">*</text>
<text x="530.82" y="38.10" font-size="7.0" font-weight="bold" stroke="#000" stroke-width="0.35">*</text>
<line x1="527.90" y1="36.60" x2="533.55" y2="36.60" stroke="#222" stroke-width="0.9"/>
<text x="534.65" y="38.60" font-size="8.0" font-weight="bold" stroke="#000" stroke-width="0.35">*</text>
<text x="547.90" y="39.70" font-size="7.0" font-weight="bold" stroke="#000" stroke-width="0.35">*</text>
<text x="550.62" y="39.70" font-size="7.0" font-weight="bold" stroke="#000" stroke-width="0.35">*</text>
<line x1="547.70" y1="38.20" x2="553.35" y2="38.20" stroke="#222" stroke-width="0.9"/>
<text x="567.10" y="35.70" font-size="7.0" font-weight="bold" stroke="#000" stroke-width="0.35">*</text>
<text x="569.82" y="35.70" font-size="7.0" font-weight="bold" stroke="#000" stroke-width="0.35">*</text>
<line x1="566.90" y1="34.40" x2="572.55" y2="34.40" stroke="#777" stroke-width="1.6"/>
<text x="586.30" y="45.30" font-size="7.0" font-weight="bold" stroke="#000" stroke-width="0.35">*</text>
<text x="589.02" y="45.30" font-size="7.0" font-weight="bold" stroke="#000" stroke-width="0.35">*</text>
<line x1="586.10" y1="43.80" x2="591.75" y2="43.80" stroke="#222" stroke-width="0.9"/>
<text x="606.10" y="48.40" font-size="7.0" font-weight="bold" stroke="#000" stroke-width="0.35">*</text>
<text x="608.82" y="48.40" font-size="7.0" font-weight="bold" stroke="#000" stroke-width="0.35">*</text>
<line x1="605.90" y1="46.90" x2="611.55" y2="46.90" stroke="#222" stroke-width="0.9"/>
<text x="612.65" y="48.90" font-size="8.0" font-weight="bold" stroke="#000" stroke-width="0.35">*</text>
<text x="625.70" y="53.50" font-size="7.0" font-weight="bold" stroke="#000" stroke-width="0.35">*</text>
<text x="628.42" y="53.50" font-size="7.0" font-weight="bold" stroke="#000" stroke-width="0.35">*</text>
<line x1="625.50" y1="52.00" x2="631.15" y2="52.00" stroke="#222" stroke-width="0.9"/>
<text x="632.25" y="54.00" font-size="8.0" font-weight="bold" stroke="#000" stroke-width="0.35">*</text>
<text x="644.90" y="52.30" font-size="7.0" font-weight="bold" stroke="#000" stroke-width="0.35">*</text>
<text x="647.62" y="52.30" font-size="7.0" font-weight="bold" stroke="#000" stroke-width="0.35">*</text>
<line x1="644.70" y1="50.80" x2="650.35" y2="50.80" stroke="#222" stroke-width="0.9"/>
<text x="651.45" y="52.80" font-size="8.0" font-weight="bold" stroke="#000" stroke-width="0.35">*</text>
<text x="665.00" y="90.90" font-size="7.0" font-weight="bold" stroke="#000" stroke-width="0.35">*</text>
<text x="667.72" y="90.90" font-size="7.0" font-weight="bold" stroke="#000" stroke-width="0.35">*</text>
<line x1="664.80" y1="89.80" x2="670.45" y2="89.80" stroke="#222" stroke-width="0.9"/>
<rect x="251.15" y="205.34" width="5.00" height="92.36" fill="#000"/>
<rect x="255.15" y="205.34" width="5.50" height="92.36" fill="#000"/>
<rect x="259.65" y="205.34" width="5.00" height="92.36" fill="#000"/>
<rect x="252.25" y="206.44" width="2.30" height="91.26" fill="#002060"/>
<rect x="256.75" y="206.44" width="2.30" height="91.26" fill="#ED7D31"/>
<rect x="261.25" y="206.44" width="2.30" height="91.26" fill="#00B050"/>
<rect x="252.25" y="205.34" width="2.30" height="2.49" fill="#000" fill-opacity="0.55"/>
<path d="M253.50 202.85V207.83M252.00 202.85H255.00M252.00 207.83H255.00" stroke="#000" stroke-width="1.3" fill="none"/>
<rect x="256.75" y="205.34" width="2.30" height="1.57" fill="#000" fill-opacity="0.55"/>
<path d="M257.50 203.78V206.91M256.00 203.78H259.00M256.00 206.91H259.00" stroke="#000" stroke-width="1.3" fill="none"/>
<rect x="261.25" y="205.34" width="2.30" height="6.17" fill="#000" fill-opacity="0.55"/>
<path d="M262.50 199.17V211.51M261.00 199.17H264.00M261.00 211.51H264.00" stroke="#000" stroke-width="1.3" fill="none"/>
<rect x="270.55" y="208.10" width="5.00" height="89.60" fill="#000"/>
<rect x="274.55" y="209.58" width="5.50" height="88.12" fill="#000"/>
<rect x="279.05" y="211.05" width="5.00" height="86.65" fill="#000"/>
<rect x="271.65" y="209.20" width="2.30" height="88.50" fill="#002060"/>
<rect x="276.15" y="210.68" width="2.30" height="87.02" fill="#ED7D31"/>
<rect x="280.65" y="212.15" width="2.30" height="85.55" fill="#00B050"/>
<rect x="271.65" y="208.10" width="2.30" height="2.21" fill="#000" fill-opacity="0.55"/>
<path d="M272.50 205.89V210.31M271.00 205.89H274.00M271.00 210.31H274.00" stroke="#000" stroke-width="1.3" fill="none"/>
<rect x="276.15" y="209.58" width="2.30" height="3.50" fill="#000" fill-opacity="0.55"/>
<path d="M277.50 206.08V213.08M276.00 206.08H279.00M276.00 213.08H279.00" stroke="#000" stroke-width="1.3" fill="none"/>
<rect x="280.65" y="211.05" width="2.30" height="1.66" fill="#000" fill-opacity="0.55"/>
<path d="M281.50 209.39V212.71M280.00 209.39H283.00M280.00 212.71H283.00" stroke="#000" stroke-width="1.3" fill="none"/>
<rect x="289.95" y="212.52" width="5.00" height="85.18" fill="#000"/>
<rect x="293.95" y="212.80" width="5.50" height="84.90" fill="#000"/>
<rect x="298.45" y="220.35" width="5.00" height="77.35" fill="#000"/>
<rect x="291.05" y="213.62" width="2.30" height="84.08" fill="#002060"/>
<rect x="295.55" y="213.90" width="2.30" height="83.80" fill="#ED7D31"/>
<rect x="300.05" y="221.45" width="2.30" height="76.25" fill="#00B050"/>
<rect x="291.05" y="212.52" width="2.30" height="2.58" fill="#000" fill-opacity="0.55"/>
<path d="M292.50 209.94V215.10M291.00 209.94H294.00M291.00 215.10H294.00" stroke="#000" stroke-width="1.3" fill="none"/>
<rect x="295.55" y="212.80" width="2.30" height="1.57" fill="#000" fill-opacity="0.55"/>
<path d="M296.50 211.23V214.36M295.00 211.23H298.00M295.00 214.36H298.00" stroke="#000" stroke-width="1.3" fill="none"/>
<rect x="300.05" y="220.35" width="2.30" height="0.74" fill="#000" fill-opacity="0.55"/>
<path d="M301.50 219.61V221.09M300.00 219.61H303.00M300.00 221.09H303.00" stroke="#000" stroke-width="1.3" fill="none"/>
<rect x="309.35" y="214.09" width="5.00" height="83.61" fill="#000"/>
<rect x="313.35" y="221.64" width="5.50" height="76.06" fill="#000"/>
<rect x="317.85" y="225.41" width="5.00" height="72.29" fill="#000"/>
<rect x="310.45" y="215.19" width="2.30" height="82.51" fill="#002060"/>
<rect x="314.95" y="222.74" width="2.30" height="74.96" fill="#ED7D31"/>
<rect x="319.45" y="226.51" width="2.30" height="71.19" fill="#00B050"/>
<rect x="310.45" y="214.09" width="2.30" height="2.76" fill="#000" fill-opacity="0.55"/>
<path d="M311.50 211.33V216.85M310.00 211.33H313.00M310.00 216.85H313.00" stroke="#000" stroke-width="1.3" fill="none"/>
<rect x="314.95" y="221.64" width="2.30" height="0.92" fill="#000" fill-opacity="0.55"/>
<path d="M316.50 220.72V222.56M315.00 220.72H318.00M315.00 222.56H318.00" stroke="#000" stroke-width="1.3" fill="none"/>
<rect x="319.45" y="225.41" width="2.30" height="4.97" fill="#000" fill-opacity="0.55"/>
<path d="M320.50 220.44V230.39M319.00 220.44H322.00M319.00 230.39H322.00" stroke="#000" stroke-width="1.3" fill="none"/>
<rect x="328.75" y="218.23" width="5.00" height="79.47" fill="#000"/>
<rect x="332.75" y="228.55" width="5.50" height="69.15" fill="#000"/>
<rect x="337.25" y="268.42" width="5.00" height="29.28" fill="#000"/>
<rect x="329.85" y="219.33" width="2.30" height="78.37" fill="#002060"/>
<rect x="334.35" y="229.65" width="2.30" height="68.05" fill="#ED7D31"/>
<rect x="338.85" y="269.52" width="2.30" height="28.18" fill="#00B050"/>
<rect x="329.85" y="218.23" width="2.30" height="0.74" fill="#000" fill-opacity="0.55"/>
<path d="M330.50 217.50V218.97M329.00 217.50H332.00M329.00 218.97H332.00" stroke="#000" stroke-width="1.3" fill="none"/>
<rect x="334.35" y="228.55" width="2.30" height="2.12" fill="#000" fill-opacity="0.55"/>
<path d="M335.50 226.43V230.66M334.00 226.43H337.00M334.00 230.66H337.00" stroke="#000" stroke-width="1.3" fill="none"/>
<rect x="338.85" y="268.42" width="2.30" height="4.51" fill="#000" fill-opacity="0.55"/>
<path d="M340.50 263.91V272.93M339.00 263.91H342.00M339.00 272.93H342.00" stroke="#000" stroke-width="1.3" fill="none"/>
<rect x="348.15" y="219.89" width="5.00" height="77.81" fill="#000"/>
<rect x="352.15" y="233.70" width="5.50" height="64.00" fill="#000"/>
<rect x="356.65" y="294.48" width="5.00" height="3.22" fill="#000"/>
<rect x="349.25" y="220.99" width="2.30" height="76.71" fill="#002060"/>
<rect x="353.75" y="234.80" width="2.30" height="62.90" fill="#ED7D31"/>
<rect x="358.25" y="295.58" width="2.30" height="2.12" fill="#00B050"/>
<rect x="349.25" y="219.89" width="2.30" height="0.74" fill="#000" fill-opacity="0.55"/>
<path d="M350.50 219.15V220.63M349.00 219.15H352.00M349.00 220.63H352.00" stroke="#000" stroke-width="1.3" fill="none"/>
<rect x="353.75" y="233.70" width="2.30" height="2.76" fill="#000" fill-opacity="0.55"/>
<path d="M354.50 230.94V236.46M353.00 230.94H356.00M353.00 236.46H356.00" stroke="#000" stroke-width="1.3" fill="none"/>
<rect x="358.25" y="294.48" width="2.30" height="0.92" fill="#000" fill-opacity="0.55"/>
<path d="M359.50 293.56V295.40M358.00 293.56H361.00M358.00 295.40H361.00" stroke="#000" stroke-width="1.3" fill="none"/>
<rect x="367.55" y="221.92" width="5.00" height="75.78" fill="#000"/>
<rect x="371.55" y="241.99" width="5.50" height="55.71" fill="#000"/>
<rect x="376.05" y="296.32" width="5.00" height="1.38" fill="#000"/>
<rect x="368.65" y="223.02" width="2.30" height="74.68" fill="#002060"/>
<rect x="373.15" y="243.09" width="2.30" height="54.61" fill="#ED7D31"/>
<rect x="377.65" y="297.42" width="2.30" height="0.28" fill="#00B050"/>
<rect x="368.65" y="221.92" width="2.30" height="0.74" fill="#000" fill-opacity="0.55"/>
<path d="M369.50 221.18V222.65M368.00 221.18H371.00M368.00 222.65H371.00" stroke="#000" stroke-width="1.3" fill="none"/>
<rect x="373.15" y="241.99" width="2.30" height="1.84" fill="#000" fill-opacity="0.55"/>
<path d="M374.50 240.15V243.83M373.00 240.15H376.00M373.00 243.83H376.00" stroke="#000" stroke-width="1.3" fill="none"/>
<rect x="386.95" y="231.31" width="5.00" height="66.39" fill="#000"/>
<rect x="390.95" y="247.05" width="5.50" height="50.65" fill="#000"/>
<rect x="395.45" y="294.48" width="5.00" height="3.22" fill="#000"/>
<rect x="388.05" y="232.41" width="2.30" height="65.29" fill="#002060"/>
<rect x="392.55" y="248.15" width="2.30" height="49.55" fill="#ED7D31"/>
<rect x="397.05" y="295.58" width="2.30" height="2.12" fill="#00B050"/>
<rect x="388.05" y="231.31" width="2.30" height="5.53" fill="#000" fill-opacity="0.55"/>
<path d="M389.50 225.78V236.83M388.00 225.78H391.00M388.00 236.83H391.00" stroke="#000" stroke-width="1.3" fill="none"/>
<rect x="392.55" y="247.05" width="2.30" height="4.79" fill="#000" fill-opacity="0.55"/>
<path d="M393.50 242.27V251.84M392.00 242.27H395.00M392.00 251.84H395.00" stroke="#000" stroke-width="1.3" fill="none"/>
<rect x="397.05" y="294.48" width="2.30" height="0.92" fill="#000" fill-opacity="0.55"/>
<path d="M398.50 293.56V295.40M397.00 293.56H400.00M397.00 295.40H400.00" stroke="#000" stroke-width="1.3" fill="none"/>
<rect x="406.35" y="247.70" width="5.00" height="50.00" fill="#000"/>
<rect x="410.35" y="282.60" width="5.50" height="15.10" fill="#000"/>
<rect x="414.85" y="295.40" width="5.00" height="2.30" fill="#000"/>
<rect x="407.45" y="248.80" width="2.30" height="48.90" fill="#002060"/>
<rect x="411.95" y="283.70" width="2.30" height="14.00" fill="#ED7D31"/>
<rect x="416.45" y="296.50" width="2.30" height="1.20" fill="#00B050"/>
<rect x="407.45" y="247.70" width="2.30" height="4.42" fill="#000" fill-opacity="0.55"/>
<path d="M408.50 243.28V252.12M407.00 243.28H410.00M407.00 252.12H410.00" stroke="#000" stroke-width="1.3" fill="none"/>
<rect x="411.95" y="282.60" width="2.30" height="0.92" fill="#000" fill-opacity="0.55"/>
<path d="M413.50 281.68V283.52M412.00 281.68H415.00M412.00 283.52H415.00" stroke="#000" stroke-width="1.3" fill="none"/>
<rect x="416.45" y="295.40" width="2.30" height="0.92" fill="#000" fill-opacity="0.55"/>
<path d="M417.50 294.48V296.32M416.00 294.48H419.00M416.00 296.32H419.00" stroke="#000" stroke-width="1.3" fill="none"/>
<rect x="425.75" y="274.86" width="5.00" height="22.84" fill="#000"/>
<rect x="429.75" y="296.96" width="5.50" height="0.74" fill="#000"/>
<rect x="434.25" y="297.24" width="5.00" height="0.46" fill="#000"/>
<rect x="426.85" y="275.96" width="2.30" height="21.74" fill="#002060"/>
<rect x="426.85" y="274.86" width="2.30" height="1.84" fill="#000" fill-opacity="0.55"/>
<path d="M428.50 273.02V276.70M427.00 273.02H430.00M427.00 276.70H430.00" stroke="#000" stroke-width="1.3" fill="none"/>
<rect x="247.90" y="187.20" width="194.00" height="110.50" fill="none" stroke="#000" stroke-width="1.45"/>
<line x1="245.50" y1="297.70" x2="247.90" y2="297.70" stroke="#000" stroke-width="1"/>
<text x="241.00" y="300.20" font-size="7.2" text-anchor="end" font-weight="bold" stroke="#000" stroke-width="0.2">0</text>
<line x1="245.50" y1="279.28" x2="247.90" y2="279.28" stroke="#000" stroke-width="1"/>
<text x="241.00" y="281.78" font-size="7.2" text-anchor="end" font-weight="bold" stroke="#000" stroke-width="0.2">20</text>
<line x1="245.50" y1="260.87" x2="247.90" y2="260.87" stroke="#000" stroke-width="1"/>
<text x="241.00" y="263.37" font-size="7.2" text-anchor="end" font-weight="bold" stroke="#000" stroke-width="0.2">40</text>
<line x1="245.50" y1="242.45" x2="247.90" y2="242.45" stroke="#000" stroke-width="1"/>
<text x="241.00" y="244.95" font-size="7.2" text-anchor="end" font-weight="bold" stroke="#000" stroke-width="0.2">60</text>
<line x1="245.50" y1="224.03" x2="247.90" y2="224.03" stroke="#000" stroke-width="1"/>
<text x="241.00" y="226.53" font-size="7.2" text-anchor="end" font-weight="bold" stroke="#000" stroke-width="0.2">80</text>
<line x1="245.50" y1="205.62" x2="247.90" y2="205.62" stroke="#000" stroke-width="1"/>
<text x="241.00" y="208.12" font-size="7.2" text-anchor="end" font-weight="bold" stroke="#000" stroke-width="0.2">100</text>
<line x1="245.50" y1="187.20" x2="247.90" y2="187.20" stroke="#000" stroke-width="1"/>
<text x="241.00" y="189.70" font-size="7.2" text-anchor="end" font-weight="bold" stroke="#000" stroke-width="0.2">120</text>
<line x1="257.50" y1="297.70" x2="257.50" y2="300.10" stroke="#000" stroke-width="1.2"/>
<text transform="translate(257.90,309.70) scale(1.02,1)" font-size="7.9" text-anchor="middle" font-weight="bold" stroke="#000" stroke-width="0.2">0</text>
<line x1="277.50" y1="297.70" x2="277.50" y2="300.10" stroke="#000" stroke-width="1.2"/>
<text transform="translate(277.30,309.70) scale(1.02,1)" font-size="7.9" text-anchor="middle" font-weight="bold" stroke="#000" stroke-width="0.2">0.1</text>
<line x1="296.50" y1="297.70" x2="296.50" y2="300.10" stroke="#000" stroke-width="1.2"/>
<text transform="translate(296.70,309.70) scale(1.02,1)" font-size="7.9" text-anchor="middle" font-weight="bold" stroke="#000" stroke-width="0.2">0.25</text>
<line x1="316.50" y1="297.70" x2="316.50" y2="300.10" stroke="#000" stroke-width="1.2"/>
<text transform="translate(316.10,309.70) scale(1.02,1)" font-size="7.9" text-anchor="middle" font-weight="bold" stroke="#000" stroke-width="0.2">0.5</text>
<line x1="335.50" y1="297.70" x2="335.50" y2="300.10" stroke="#000" stroke-width="1.2"/>
<text transform="translate(335.50,309.70) scale(1.02,1)" font-size="7.9" text-anchor="middle" font-weight="bold" stroke="#000" stroke-width="0.2">1</text>
<line x1="354.50" y1="297.70" x2="354.50" y2="300.10" stroke="#000" stroke-width="1.2"/>
<text transform="translate(354.90,309.70) scale(1.02,1)" font-size="7.9" text-anchor="middle" font-weight="bold" stroke="#000" stroke-width="0.2">1.5</text>
<line x1="374.50" y1="297.70" x2="374.50" y2="300.10" stroke="#000" stroke-width="1.2"/>
<text transform="translate(374.30,309.70) scale(1.02,1)" font-size="7.9" text-anchor="middle" font-weight="bold" stroke="#000" stroke-width="0.2">2.5</text>
<line x1="393.50" y1="297.70" x2="393.50" y2="300.10" stroke="#000" stroke-width="1.2"/>
<text transform="translate(393.70,309.70) scale(1.02,1)" font-size="7.9" text-anchor="middle" font-weight="bold" stroke="#000" stroke-width="0.2">5</text>
<line x1="413.50" y1="297.70" x2="413.50" y2="300.10" stroke="#000" stroke-width="1.2"/>
<text transform="translate(413.10,309.70) scale(1.02,1)" font-size="7.9" text-anchor="middle" font-weight="bold" stroke="#000" stroke-width="0.2">10</text>
<line x1="432.50" y1="297.70" x2="432.50" y2="300.10" stroke="#000" stroke-width="1.2"/>
<text transform="translate(432.50,309.70) scale(1.02,1)" font-size="7.9" text-anchor="middle" font-weight="bold" stroke="#000" stroke-width="0.2">20</text>
<text transform="translate(339.50,323.00) scale(1.085,1)" font-size="8.4" text-anchor="middle" font-weight="bold" stroke="#000" stroke-width="0.2">Concentration of IR794-Morph (µM)</text>
<text transform="translate(222.70,242.60) rotate(-90) scale(1,1.12)" font-size="9.2" text-anchor="middle" font-weight="bold" stroke="#000" stroke-width="0.2">% Viability of HepG2</text>
<rect x="343.20" y="191.70" width="4.2" height="4.2" fill="#002060" stroke="#000" stroke-width="1"/>
<text transform="translate(348.70,196.70) scale(1.08,1)" font-size="7.5" text-anchor="start" font-weight="bold" stroke="#000" stroke-width="0.15">6 h</text>
<rect x="372.60" y="191.70" width="4.2" height="4.2" fill="#ED7D31" stroke="#000" stroke-width="1"/>
<text transform="translate(378.10,196.70) scale(1.08,1)" font-size="7.5" text-anchor="start" font-weight="bold" stroke="#000" stroke-width="0.15">48 h</text>
<rect x="406.30" y="191.70" width="4.2" height="4.2" fill="#00B050" stroke="#000" stroke-width="1"/>
<text transform="translate(411.80,196.70) scale(1.08,1)" font-size="7.5" text-anchor="start" font-weight="bold" stroke="#000" stroke-width="0.15">72 h</text>
<circle cx="293.40" cy="204.90" r="0.95" fill="#222"/>
<circle cx="297.50" cy="202.70" r="0.95" fill="#222"/>
<circle cx="297.50" cy="205.90" r="0.95" fill="#222"/>
<circle cx="301.60" cy="214.80" r="0.95" fill="#222"/>
<circle cx="311.30" cy="206.30" r="0.95" fill="#222"/>
<circle cx="315.30" cy="207.60" r="0.95" fill="#222"/>
<circle cx="315.30" cy="210.80" r="0.95" fill="#222"/>
<circle cx="315.30" cy="214.00" r="0.95" fill="#222"/>
<circle cx="321.70" cy="212.10" r="0.95" fill="#222"/>
<circle cx="321.70" cy="215.30" r="0.95" fill="#222"/>
<circle cx="332.20" cy="209.30" r="0.95" fill="#222"/>
<circle cx="332.20" cy="212.50" r="0.95" fill="#222"/>
<circle cx="336.50" cy="213.80" r="0.95" fill="#222"/>
<circle cx="336.50" cy="217.00" r="0.95" fill="#222"/>
<circle cx="336.50" cy="220.20" r="0.95" fill="#222"/>
<circle cx="340.60" cy="247.00" r="0.95" fill="#222"/>
<circle cx="340.60" cy="250.20" r="0.95" fill="#222"/>
<circle cx="340.60" cy="253.40" r="0.95" fill="#222"/>
<circle cx="351.00" cy="208.50" r="0.95" fill="#222"/>
<circle cx="351.00" cy="211.70" r="0.95" fill="#222"/>
<circle cx="351.00" cy="214.90" r="0.95" fill="#222"/>
<circle cx="355.60" cy="219.10" r="0.95" fill="#222"/>
<circle cx="355.60" cy="222.30" r="0.95" fill="#222"/>
<circle cx="355.60" cy="225.50" r="0.95" fill="#222"/>
<circle cx="359.10" cy="281.80" r="0.95" fill="#222"/>
<circle cx="359.10" cy="285.00" r="0.95" fill="#222"/>
<circle cx="359.10" cy="288.20" r="0.95" fill="#222"/>
<circle cx="371.10" cy="209.90" r="0.95" fill="#222"/>
<circle cx="371.10" cy="213.10" r="0.95" fill="#222"/>
<circle cx="371.10" cy="216.30" r="0.95" fill="#222"/>
<circle cx="375.60" cy="226.40" r="0.95" fill="#222"/>
<circle cx="375.60" cy="229.60" r="0.95" fill="#222"/>
<circle cx="375.60" cy="232.80" r="0.95" fill="#222"/>
<circle cx="379.40" cy="281.80" r="0.95" fill="#222"/>
<circle cx="379.40" cy="285.00" r="0.95" fill="#222"/>
<circle cx="379.40" cy="288.20" r="0.95" fill="#222"/>
<circle cx="390.00" cy="213.30" r="0.95" fill="#222"/>
<circle cx="390.00" cy="216.50" r="0.95" fill="#222"/>
<circle cx="390.00" cy="219.70" r="0.95" fill="#222"/>
<circle cx="394.40" cy="227.60" r="0.95" fill="#222"/>
<circle cx="394.40" cy="230.80" r="0.95" fill="#222"/>
<circle cx="394.40" cy="234.00" r="0.95" fill="#222"/>
<circle cx="398.30" cy="281.80" r="0.95" fill="#222"/>
<circle cx="398.30" cy="285.00" r="0.95" fill="#222"/>
<circle cx="398.30" cy="288.20" r="0.95" fill="#222"/>
<circle cx="409.10" cy="229.70" r="0.95" fill="#222"/>
<circle cx="409.10" cy="232.90" r="0.95" fill="#222"/>
<circle cx="409.10" cy="236.10" r="0.95" fill="#222"/>
<circle cx="414.00" cy="264.80" r="0.95" fill="#222"/>
<circle cx="414.00" cy="268.00" r="0.95" fill="#222"/>
<circle cx="414.00" cy="271.20" r="0.95" fill="#222"/>
<circle cx="417.60" cy="275.20" r="0.95" fill="#222"/>
<circle cx="417.60" cy="278.40" r="0.95" fill="#222"/>
<circle cx="417.60" cy="281.60" r="0.95" fill="#222"/>
<circle cx="428.60" cy="261.10" r="0.95" fill="#222"/>
<circle cx="428.60" cy="264.30" r="0.95" fill="#222"/>
<circle cx="428.60" cy="267.50" r="0.95" fill="#222"/>
<circle cx="433.20" cy="281.80" r="0.95" fill="#222"/>
<circle cx="433.20" cy="285.00" r="0.95" fill="#222"/>
<circle cx="433.20" cy="288.20" r="0.95" fill="#222"/>
<circle cx="437.20" cy="281.80" r="0.95" fill="#222"/>
<circle cx="437.20" cy="285.00" r="0.95" fill="#222"/>
<circle cx="437.20" cy="288.20" r="0.95" fill="#222"/>
<rect x="485.06" y="205.29" width="5.00" height="93.11" fill="#000"/>
<rect x="489.06" y="205.29" width="5.50" height="93.11" fill="#000"/>
<rect x="493.56" y="205.29" width="5.00" height="93.11" fill="#000"/>
<rect x="486.16" y="206.39" width="2.30" height="92.01" fill="#002060"/>
<rect x="490.66" y="206.39" width="2.30" height="92.01" fill="#ED7D31"/>
<rect x="495.16" y="206.39" width="2.30" height="92.01" fill="#00B050"/>
<rect x="486.16" y="205.29" width="2.30" height="2.51" fill="#000" fill-opacity="0.55"/>
<path d="M487.50 202.78V207.79M486.00 202.78H489.00M486.00 207.79H489.00" stroke="#000" stroke-width="1.3" fill="none"/>
<rect x="490.66" y="205.29" width="2.30" height="2.51" fill="#000" fill-opacity="0.55"/>
<path d="M491.50 202.78V207.79M490.00 202.78H493.00M490.00 207.79H493.00" stroke="#000" stroke-width="1.3" fill="none"/>
<rect x="495.16" y="205.29" width="2.30" height="3.06" fill="#000" fill-opacity="0.55"/>
<path d="M496.50 202.22V208.35M495.00 202.22H498.00M495.00 208.35H498.00" stroke="#000" stroke-width="1.3" fill="none"/>
<rect x="504.47" y="208.35" width="5.00" height="90.05" fill="#000"/>
<rect x="508.47" y="211.14" width="5.50" height="87.26" fill="#000"/>
<rect x="512.97" y="213.46" width="5.00" height="84.94" fill="#000"/>
<rect x="505.57" y="209.45" width="2.30" height="88.95" fill="#002060"/>
<rect x="510.07" y="212.24" width="2.30" height="86.16" fill="#ED7D31"/>
<rect x="514.57" y="214.56" width="2.30" height="83.84" fill="#00B050"/>
<rect x="505.57" y="208.35" width="2.30" height="1.39" fill="#000" fill-opacity="0.55"/>
<path d="M506.50 206.96V209.74M505.00 206.96H508.00M505.00 209.74H508.00" stroke="#000" stroke-width="1.3" fill="none"/>
<rect x="510.07" y="211.14" width="2.30" height="1.11" fill="#000" fill-opacity="0.55"/>
<path d="M511.50 210.02V212.25M510.00 210.02H513.00M510.00 212.25H513.00" stroke="#000" stroke-width="1.3" fill="none"/>
<rect x="514.57" y="213.46" width="2.30" height="0.74" fill="#000" fill-opacity="0.55"/>
<path d="M515.50 212.71V214.20M514.00 212.71H517.00M514.00 214.20H517.00" stroke="#000" stroke-width="1.3" fill="none"/>
<rect x="523.88" y="219.03" width="5.00" height="79.37" fill="#000"/>
<rect x="527.88" y="214.48" width="5.50" height="83.92" fill="#000"/>
<rect x="532.38" y="227.20" width="5.00" height="71.20" fill="#000"/>
<rect x="524.98" y="220.13" width="2.30" height="78.27" fill="#002060"/>
<rect x="529.48" y="215.58" width="2.30" height="82.82" fill="#ED7D31"/>
<rect x="533.98" y="228.30" width="2.30" height="70.10" fill="#00B050"/>
<rect x="524.98" y="219.03" width="2.30" height="1.86" fill="#000" fill-opacity="0.55"/>
<path d="M526.50 217.17V220.88M525.00 217.17H528.00M525.00 220.88H528.00" stroke="#000" stroke-width="1.3" fill="none"/>
<rect x="529.48" y="214.48" width="2.30" height="2.78" fill="#000" fill-opacity="0.55"/>
<path d="M530.50 211.69V217.26M529.00 211.69H532.00M529.00 217.26H532.00" stroke="#000" stroke-width="1.3" fill="none"/>
<rect x="533.98" y="227.20" width="2.30" height="1.67" fill="#000" fill-opacity="0.55"/>
<path d="M535.50 225.53V228.87M534.00 225.53H537.00M534.00 228.87H537.00" stroke="#000" stroke-width="1.3" fill="none"/>
<rect x="543.29" y="218.10" width="5.00" height="80.30" fill="#000"/>
<rect x="547.29" y="225.71" width="5.50" height="72.69" fill="#000"/>
<rect x="551.79" y="282.62" width="5.00" height="15.78" fill="#000"/>
<rect x="544.39" y="219.20" width="2.30" height="79.20" fill="#002060"/>
<rect x="548.89" y="226.81" width="2.30" height="71.59" fill="#ED7D31"/>
<rect x="553.39" y="283.72" width="2.30" height="14.68" fill="#00B050"/>
<rect x="544.39" y="218.10" width="2.30" height="2.88" fill="#000" fill-opacity="0.55"/>
<path d="M545.50 215.22V220.98M544.00 215.22H547.00M544.00 220.98H547.00" stroke="#000" stroke-width="1.3" fill="none"/>
<rect x="548.89" y="225.71" width="2.30" height="1.86" fill="#000" fill-opacity="0.55"/>
<path d="M550.50 223.85V227.57M549.00 223.85H552.00M549.00 227.57H552.00" stroke="#000" stroke-width="1.3" fill="none"/>
<rect x="553.39" y="282.62" width="2.30" height="1.30" fill="#000" fill-opacity="0.55"/>
<path d="M554.50 281.32V283.92M553.00 281.32H556.00M553.00 283.92H556.00" stroke="#000" stroke-width="1.3" fill="none"/>
<rect x="562.70" y="226.27" width="5.00" height="72.13" fill="#000"/>
<rect x="566.70" y="242.05" width="5.50" height="56.35" fill="#000"/>
<rect x="571.20" y="293.57" width="5.00" height="4.83" fill="#000"/>
<rect x="563.80" y="227.37" width="2.30" height="71.03" fill="#002060"/>
<rect x="568.30" y="243.15" width="2.30" height="55.25" fill="#ED7D31"/>
<rect x="572.80" y="294.67" width="2.30" height="3.73" fill="#00B050"/>
<rect x="563.80" y="226.27" width="2.30" height="2.04" fill="#000" fill-opacity="0.55"/>
<path d="M564.50 224.23V228.31M563.00 224.23H566.00M563.00 228.31H566.00" stroke="#000" stroke-width="1.3" fill="none"/>
<rect x="568.30" y="242.05" width="2.30" height="3.62" fill="#000" fill-opacity="0.55"/>
<path d="M569.50 238.43V245.67M568.00 238.43H571.00M568.00 245.67H571.00" stroke="#000" stroke-width="1.3" fill="none"/>
<rect x="572.80" y="293.57" width="2.30" height="0.93" fill="#000" fill-opacity="0.55"/>
<path d="M573.50 292.64V294.50M572.00 292.64H575.00M572.00 294.50H575.00" stroke="#000" stroke-width="1.3" fill="none"/>
<rect x="582.11" y="234.44" width="5.00" height="63.96" fill="#000"/>
<rect x="586.11" y="245.21" width="5.50" height="53.19" fill="#000"/>
<rect x="590.61" y="294.69" width="5.00" height="3.71" fill="#000"/>
<rect x="583.21" y="235.54" width="2.30" height="62.86" fill="#002060"/>
<rect x="587.71" y="246.31" width="2.30" height="52.09" fill="#ED7D31"/>
<rect x="592.21" y="295.79" width="2.30" height="2.61" fill="#00B050"/>
<rect x="583.21" y="234.44" width="2.30" height="0.74" fill="#000" fill-opacity="0.55"/>
<path d="M584.50 233.70V235.18M583.00 233.70H586.00M583.00 235.18H586.00" stroke="#000" stroke-width="1.3" fill="none"/>
<rect x="587.71" y="245.21" width="2.30" height="4.64" fill="#000" fill-opacity="0.55"/>
<path d="M588.50 240.56V249.85M587.00 240.56H590.00M587.00 249.85H590.00" stroke="#000" stroke-width="1.3" fill="none"/>
<rect x="592.21" y="294.69" width="2.30" height="0.93" fill="#000" fill-opacity="0.55"/>
<path d="M593.50 293.76V295.62M592.00 293.76H595.00M592.00 295.62H595.00" stroke="#000" stroke-width="1.3" fill="none"/>
<rect x="601.51" y="242.05" width="5.00" height="56.35" fill="#000"/>
<rect x="605.51" y="247.99" width="5.50" height="50.41" fill="#000"/>
<rect x="610.01" y="294.69" width="5.00" height="3.71" fill="#000"/>
<rect x="602.62" y="243.15" width="2.30" height="55.25" fill="#002060"/>
<rect x="607.12" y="249.09" width="2.30" height="49.31" fill="#ED7D31"/>
<rect x="611.62" y="295.79" width="2.30" height="2.61" fill="#00B050"/>
<rect x="602.62" y="242.05" width="2.30" height="0.74" fill="#000" fill-opacity="0.55"/>
<path d="M603.50 241.31V242.79M602.00 241.31H605.00M602.00 242.79H605.00" stroke="#000" stroke-width="1.3" fill="none"/>
<rect x="607.12" y="247.99" width="2.30" height="2.23" fill="#000" fill-opacity="0.55"/>
<path d="M608.50 245.76V250.22M607.00 245.76H610.00M607.00 250.22H610.00" stroke="#000" stroke-width="1.3" fill="none"/>
<rect x="611.62" y="294.69" width="2.30" height="0.93" fill="#000" fill-opacity="0.55"/>
<path d="M612.50 293.76V295.62M611.00 293.76H614.00M611.00 295.62H614.00" stroke="#000" stroke-width="1.3" fill="none"/>
<rect x="620.93" y="254.03" width="5.00" height="44.37" fill="#000"/>
<rect x="624.93" y="251.80" width="5.50" height="46.60" fill="#000"/>
<rect x="629.43" y="295.15" width="5.00" height="3.25" fill="#000"/>
<rect x="622.03" y="255.13" width="2.30" height="43.27" fill="#002060"/>
<rect x="626.53" y="252.90" width="2.30" height="45.50" fill="#ED7D31"/>
<rect x="631.03" y="296.25" width="2.30" height="2.15" fill="#00B050"/>
<rect x="622.03" y="254.03" width="2.30" height="2.69" fill="#000" fill-opacity="0.55"/>
<path d="M623.50 251.33V256.72M622.00 251.33H625.00M622.00 256.72H625.00" stroke="#000" stroke-width="1.3" fill="none"/>
<rect x="626.53" y="251.80" width="2.30" height="5.38" fill="#000" fill-opacity="0.55"/>
<path d="M627.50 246.41V257.18M626.00 246.41H629.00M626.00 257.18H629.00" stroke="#000" stroke-width="1.3" fill="none"/>
<rect x="631.03" y="295.15" width="2.30" height="0.93" fill="#000" fill-opacity="0.55"/>
<path d="M632.50 294.22V296.08M631.00 294.22H634.00M631.00 296.08H634.00" stroke="#000" stroke-width="1.3" fill="none"/>
<rect x="640.34" y="255.33" width="5.00" height="43.07" fill="#000"/>
<rect x="644.34" y="276.58" width="5.50" height="21.82" fill="#000"/>
<rect x="648.84" y="297.47" width="5.00" height="0.93" fill="#000"/>
<rect x="641.44" y="256.43" width="2.30" height="41.97" fill="#002060"/>
<rect x="645.94" y="277.68" width="2.30" height="20.72" fill="#ED7D31"/>
<rect x="641.44" y="255.33" width="2.30" height="1.86" fill="#000" fill-opacity="0.55"/>
<path d="M642.50 253.47V257.18M641.00 253.47H644.00M641.00 257.18H644.00" stroke="#000" stroke-width="1.3" fill="none"/>
<rect x="645.94" y="276.58" width="2.30" height="1.21" fill="#000" fill-opacity="0.55"/>
<path d="M647.50 275.38V277.79M646.00 275.38H649.00M646.00 277.79H649.00" stroke="#000" stroke-width="1.3" fill="none"/>
<rect x="659.75" y="282.71" width="5.00" height="15.69" fill="#000"/>
<rect x="663.75" y="297.47" width="5.50" height="0.93" fill="#000"/>
<rect x="668.25" y="297.94" width="5.00" height="0.46" fill="#000"/>
<rect x="660.85" y="283.81" width="2.30" height="14.59" fill="#002060"/>
<rect x="660.85" y="282.71" width="2.30" height="2.23" fill="#000" fill-opacity="0.55"/>
<path d="M661.50 280.48V284.94M660.00 280.48H663.00M660.00 284.94H663.00" stroke="#000" stroke-width="1.3" fill="none"/>
<rect x="482.00" y="187.00" width="194.10" height="111.40" fill="none" stroke="#000" stroke-width="1.45"/>
<line x1="479.60" y1="298.40" x2="482.00" y2="298.40" stroke="#000" stroke-width="1"/>
<text x="474.50" y="300.90" font-size="7.4" text-anchor="end" font-weight="bold" stroke="#000" stroke-width="0.2">0</text>
<line x1="479.60" y1="279.83" x2="482.00" y2="279.83" stroke="#000" stroke-width="1"/>
<text x="474.50" y="282.33" font-size="7.4" text-anchor="end" font-weight="bold" stroke="#000" stroke-width="0.2">20</text>
<line x1="479.60" y1="261.27" x2="482.00" y2="261.27" stroke="#000" stroke-width="1"/>
<text x="474.50" y="263.77" font-size="7.4" text-anchor="end" font-weight="bold" stroke="#000" stroke-width="0.2">40</text>
<line x1="479.60" y1="242.70" x2="482.00" y2="242.70" stroke="#000" stroke-width="1"/>
<text x="474.50" y="245.20" font-size="7.4" text-anchor="end" font-weight="bold" stroke="#000" stroke-width="0.2">60</text>
<line x1="479.60" y1="224.13" x2="482.00" y2="224.13" stroke="#000" stroke-width="1"/>
<text x="474.50" y="226.63" font-size="7.4" text-anchor="end" font-weight="bold" stroke="#000" stroke-width="0.2">80</text>
<line x1="479.60" y1="205.57" x2="482.00" y2="205.57" stroke="#000" stroke-width="1"/>
<text x="474.50" y="208.07" font-size="7.4" text-anchor="end" font-weight="bold" stroke="#000" stroke-width="0.2">100</text>
<line x1="479.60" y1="187.00" x2="482.00" y2="187.00" stroke="#000" stroke-width="1"/>
<text x="474.50" y="189.50" font-size="7.4" text-anchor="end" font-weight="bold" stroke="#000" stroke-width="0.2">120</text>
<line x1="491.50" y1="298.40" x2="491.50" y2="300.80" stroke="#000" stroke-width="1.2"/>
<text transform="translate(491.81,310.90) scale(1.02,1)" font-size="7.9" text-anchor="middle" font-weight="bold" stroke="#000" stroke-width="0.2">0</text>
<line x1="511.50" y1="298.40" x2="511.50" y2="300.80" stroke="#000" stroke-width="1.2"/>
<text transform="translate(511.22,310.90) scale(1.02,1)" font-size="7.9" text-anchor="middle" font-weight="bold" stroke="#000" stroke-width="0.2">0.1</text>
<line x1="530.50" y1="298.40" x2="530.50" y2="300.80" stroke="#000" stroke-width="1.2"/>
<text transform="translate(530.62,310.90) scale(1.02,1)" font-size="7.9" text-anchor="middle" font-weight="bold" stroke="#000" stroke-width="0.2">0.25</text>
<line x1="550.50" y1="298.40" x2="550.50" y2="300.80" stroke="#000" stroke-width="1.2"/>
<text transform="translate(550.04,310.90) scale(1.02,1)" font-size="7.9" text-anchor="middle" font-weight="bold" stroke="#000" stroke-width="0.2">0.5</text>
<line x1="569.50" y1="298.40" x2="569.50" y2="300.80" stroke="#000" stroke-width="1.2"/>
<text transform="translate(569.45,310.90) scale(1.02,1)" font-size="7.9" text-anchor="middle" font-weight="bold" stroke="#000" stroke-width="0.2">1</text>
<line x1="588.50" y1="298.40" x2="588.50" y2="300.80" stroke="#000" stroke-width="1.2"/>
<text transform="translate(588.86,310.90) scale(1.02,1)" font-size="7.9" text-anchor="middle" font-weight="bold" stroke="#000" stroke-width="0.2">1.5</text>
<line x1="608.50" y1="298.40" x2="608.50" y2="300.80" stroke="#000" stroke-width="1.2"/>
<text transform="translate(608.26,310.90) scale(1.02,1)" font-size="7.9" text-anchor="middle" font-weight="bold" stroke="#000" stroke-width="0.2">2.5</text>
<line x1="627.50" y1="298.40" x2="627.50" y2="300.80" stroke="#000" stroke-width="1.2"/>
<text transform="translate(627.68,310.90) scale(1.02,1)" font-size="7.9" text-anchor="middle" font-weight="bold" stroke="#000" stroke-width="0.2">5</text>
<line x1="647.50" y1="298.40" x2="647.50" y2="300.80" stroke="#000" stroke-width="1.2"/>
<text transform="translate(647.09,310.90) scale(1.02,1)" font-size="7.9" text-anchor="middle" font-weight="bold" stroke="#000" stroke-width="0.2">10</text>
<line x1="666.50" y1="298.40" x2="666.50" y2="300.80" stroke="#000" stroke-width="1.2"/>
<text transform="translate(666.50,310.90) scale(1.02,1)" font-size="7.9" text-anchor="middle" font-weight="bold" stroke="#000" stroke-width="0.2">20</text>
<text transform="translate(576.30,323.00) scale(1.085,1)" font-size="8.4" text-anchor="middle" font-weight="bold" stroke="#000" stroke-width="0.2">Concentration of IR794-Morph-Mpip (µM)</text>
<text transform="translate(459.70,244.00) rotate(-90) scale(1,1.12)" font-size="9.2" text-anchor="middle" font-weight="bold" stroke="#000" stroke-width="0.2">% Viability of HepG2</text>
<rect x="575.60" y="192.90" width="4.2" height="4.2" fill="#002060" stroke="#000" stroke-width="1"/>
<text transform="translate(581.10,197.90) scale(1.08,1)" font-size="7.5" text-anchor="start" font-weight="bold" stroke="#000" stroke-width="0.15">6 h</text>
<rect x="604.80" y="192.90" width="4.2" height="4.2" fill="#ED7D31" stroke="#000" stroke-width="1"/>
<text transform="translate(610.30,197.90) scale(1.08,1)" font-size="7.5" text-anchor="start" font-weight="bold" stroke="#000" stroke-width="0.15">48 h</text>
<rect x="638.90" y="192.90" width="4.2" height="4.2" fill="#00B050" stroke="#000" stroke-width="1"/>
<text transform="translate(644.40,197.90) scale(1.08,1)" font-size="7.5" text-anchor="start" font-weight="bold" stroke="#000" stroke-width="0.15">72 h</text>
<circle cx="506.60" cy="204.40" r="0.95" fill="#222"/>
<circle cx="510.90" cy="206.80" r="0.95" fill="#222"/>
<circle cx="515.50" cy="205.90" r="0.95" fill="#222"/>
<circle cx="515.50" cy="209.10" r="0.95" fill="#222"/>
<circle cx="525.90" cy="209.80" r="0.95" fill="#222"/>
<circle cx="525.90" cy="213.00" r="0.95" fill="#222"/>
<circle cx="530.50" cy="208.10" r="0.95" fill="#222"/>
<circle cx="534.80" cy="218.00" r="0.95" fill="#222"/>
<circle cx="534.80" cy="221.20" r="0.95" fill="#222"/>
<circle cx="545.80" cy="208.80" r="0.95" fill="#222"/>
<circle cx="545.80" cy="212.00" r="0.95" fill="#222"/>
<circle cx="549.90" cy="217.40" r="0.95" fill="#222"/>
<circle cx="549.90" cy="220.60" r="0.95" fill="#222"/>
<circle cx="553.50" cy="270.30" r="0.95" fill="#222"/>
<circle cx="553.50" cy="273.50" r="0.95" fill="#222"/>
<circle cx="553.50" cy="276.70" r="0.95" fill="#222"/>
<circle cx="564.60" cy="214.40" r="0.95" fill="#222"/>
<circle cx="564.60" cy="217.60" r="0.95" fill="#222"/>
<circle cx="564.60" cy="220.80" r="0.95" fill="#222"/>
<circle cx="569.70" cy="231.70" r="0.95" fill="#222"/>
<circle cx="569.70" cy="234.90" r="0.95" fill="#222"/>
<circle cx="569.70" cy="238.10" r="0.95" fill="#222"/>
<circle cx="573.70" cy="282.60" r="0.95" fill="#222"/>
<circle cx="573.70" cy="285.80" r="0.95" fill="#222"/>
<circle cx="573.70" cy="289.00" r="0.95" fill="#222"/>
<circle cx="584.40" cy="223.00" r="0.95" fill="#222"/>
<circle cx="584.40" cy="226.20" r="0.95" fill="#222"/>
<circle cx="584.40" cy="229.40" r="0.95" fill="#222"/>
<circle cx="588.60" cy="229.90" r="0.95" fill="#222"/>
<circle cx="588.60" cy="233.10" r="0.95" fill="#222"/>
<circle cx="588.60" cy="236.30" r="0.95" fill="#222"/>
<circle cx="592.80" cy="285.70" r="0.95" fill="#222"/>
<circle cx="592.80" cy="288.90" r="0.95" fill="#222"/>
<circle cx="592.80" cy="292.10" r="0.95" fill="#222"/>
<circle cx="603.90" cy="232.10" r="0.95" fill="#222"/>
<circle cx="603.90" cy="235.30" r="0.95" fill="#222"/>
<circle cx="603.90" cy="238.50" r="0.95" fill="#222"/>
<circle cx="608.20" cy="236.00" r="0.95" fill="#222"/>
<circle cx="608.20" cy="239.20" r="0.95" fill="#222"/>
<circle cx="608.20" cy="242.40" r="0.95" fill="#222"/>
<circle cx="612.40" cy="282.00" r="0.95" fill="#222"/>
<circle cx="612.40" cy="285.20" r="0.95" fill="#222"/>
<circle cx="612.40" cy="288.40" r="0.95" fill="#222"/>
<circle cx="623.00" cy="241.50" r="0.95" fill="#222"/>
<circle cx="623.00" cy="244.70" r="0.95" fill="#222"/>
<circle cx="623.00" cy="247.90" r="0.95" fill="#222"/>
<circle cx="627.10" cy="236.50" r="0.95" fill="#222"/>
<circle cx="627.10" cy="239.70" r="0.95" fill="#222"/>
<circle cx="627.10" cy="242.90" r="0.95" fill="#222"/>
<circle cx="631.40" cy="284.90" r="0.95" fill="#222"/>
<circle cx="631.40" cy="288.10" r="0.95" fill="#222"/>
<circle cx="631.40" cy="291.30" r="0.95" fill="#222"/>
<circle cx="642.40" cy="243.70" r="0.95" fill="#222"/>
<circle cx="642.40" cy="246.90" r="0.95" fill="#222"/>
<circle cx="642.40" cy="250.10" r="0.95" fill="#222"/>
<circle cx="646.90" cy="266.00" r="0.95" fill="#222"/>
<circle cx="646.90" cy="269.20" r="0.95" fill="#222"/>
<circle cx="646.90" cy="272.40" r="0.95" fill="#222"/>
<circle cx="651.20" cy="285.70" r="0.95" fill="#222"/>
<circle cx="651.20" cy="288.90" r="0.95" fill="#222"/>
<circle cx="651.20" cy="292.10" r="0.95" fill="#222"/>
<circle cx="661.80" cy="270.30" r="0.95" fill="#222"/>
<circle cx="661.80" cy="273.50" r="0.95" fill="#222"/>
<circle cx="661.80" cy="276.70" r="0.95" fill="#222"/>
<circle cx="666.10" cy="287.80" r="0.95" fill="#222"/>
<circle cx="666.10" cy="291.00" r="0.95" fill="#222"/>
<circle cx="666.10" cy="294.20" r="0.95" fill="#222"/>
<circle cx="669.80" cy="286.40" r="0.95" fill="#222"/>
<circle cx="669.80" cy="289.60" r="0.95" fill="#222"/>
<circle cx="669.80" cy="292.80" r="0.95" fill="#222"/>
<text x="0.90" y="9.00" font-size="10.2" text-anchor="start" font-weight="bold" >A</text>
<text x="221.50" y="9.00" font-size="10.2" text-anchor="start" font-weight="bold" >B</text>
<text x="451.60" y="9.00" font-size="10.2" text-anchor="start" font-weight="bold" >C</text>
<text x="1.20" y="177.20" font-size="10.2" text-anchor="start" font-weight="bold" >D</text>
<text x="221.50" y="177.00" font-size="10.2" text-anchor="start" font-weight="bold" >E</text>
<text x="452.00" y="176.50" font-size="10.2" text-anchor="start" font-weight="bold" >F</text>
<rect x="8.3" y="197.5" width="192.39999999999998" height="44.80000000000001" fill="#D9D9D9"/>
<g stroke="#000" stroke-width="1.6" fill="none">
<rect x="8.3" y="197.5" width="192.39999999999998" height="95.5"/>
<line x1="52.4" y1="197.5" x2="52.4" y2="293.0"/>
<line x1="132.5" y1="213.9" x2="132.5" y2="293.0"/>
<line x1="52.4" y1="213.9" x2="200.7" y2="213.9"/>
<line x1="8.3" y1="242.3" x2="200.7" y2="242.3"/>
<line x1="8.3" y1="259.9" x2="200.7" y2="259.9"/>
<line x1="8.3" y1="276.6" x2="200.7" y2="276.6"/>
</g>
<text x="30.40" y="223.60" font-size="10.0" text-anchor="middle" font-weight="bold" >Time</text>
<text x="126.6" y="209.8" font-size="10" text-anchor="middle" font-weight="bold">IC<tspan font-size="6.5" dy="2.2">50</tspan><tspan dy="-2.2"> (µM)</tspan></text>
<text x="92.60" y="231.10" font-size="10.0" text-anchor="middle" font-weight="bold" >IR794-Morph</text>
<text x="166.80" y="226.50" font-size="10.0" text-anchor="middle" font-weight="bold" >IR794-</text>
<text x="166.80" y="237.30" font-size="10.0" text-anchor="middle" font-weight="bold" >Morph-Mpip</text>
<text x="30.40" y="253.80" font-size="9.2" text-anchor="middle" font-weight="bold" >6 h</text>
<text x="92.40" y="253.80" font-size="9.2" text-anchor="middle" font-weight="normal" >9.03</text>
<text x="166.90" y="253.80" font-size="9.2" text-anchor="middle" font-weight="normal" >4.69</text>
<text x="30.40" y="271.00" font-size="9.2" text-anchor="middle" font-weight="bold" >48 h</text>
<text x="92.40" y="271.00" font-size="9.2" text-anchor="middle" font-weight="normal" >3.18</text>
<text x="166.90" y="271.00" font-size="9.2" text-anchor="middle" font-weight="normal" >2.54</text>
<text x="30.40" y="287.00" font-size="9.2" text-anchor="middle" font-weight="bold" >72 h</text>
<text x="92.40" y="287.00" font-size="9.2" text-anchor="middle" font-weight="normal" >0.73</text>
<text x="166.90" y="287.00" font-size="9.2" text-anchor="middle" font-weight="normal" >0.34</text>
</svg>
</body></html>
